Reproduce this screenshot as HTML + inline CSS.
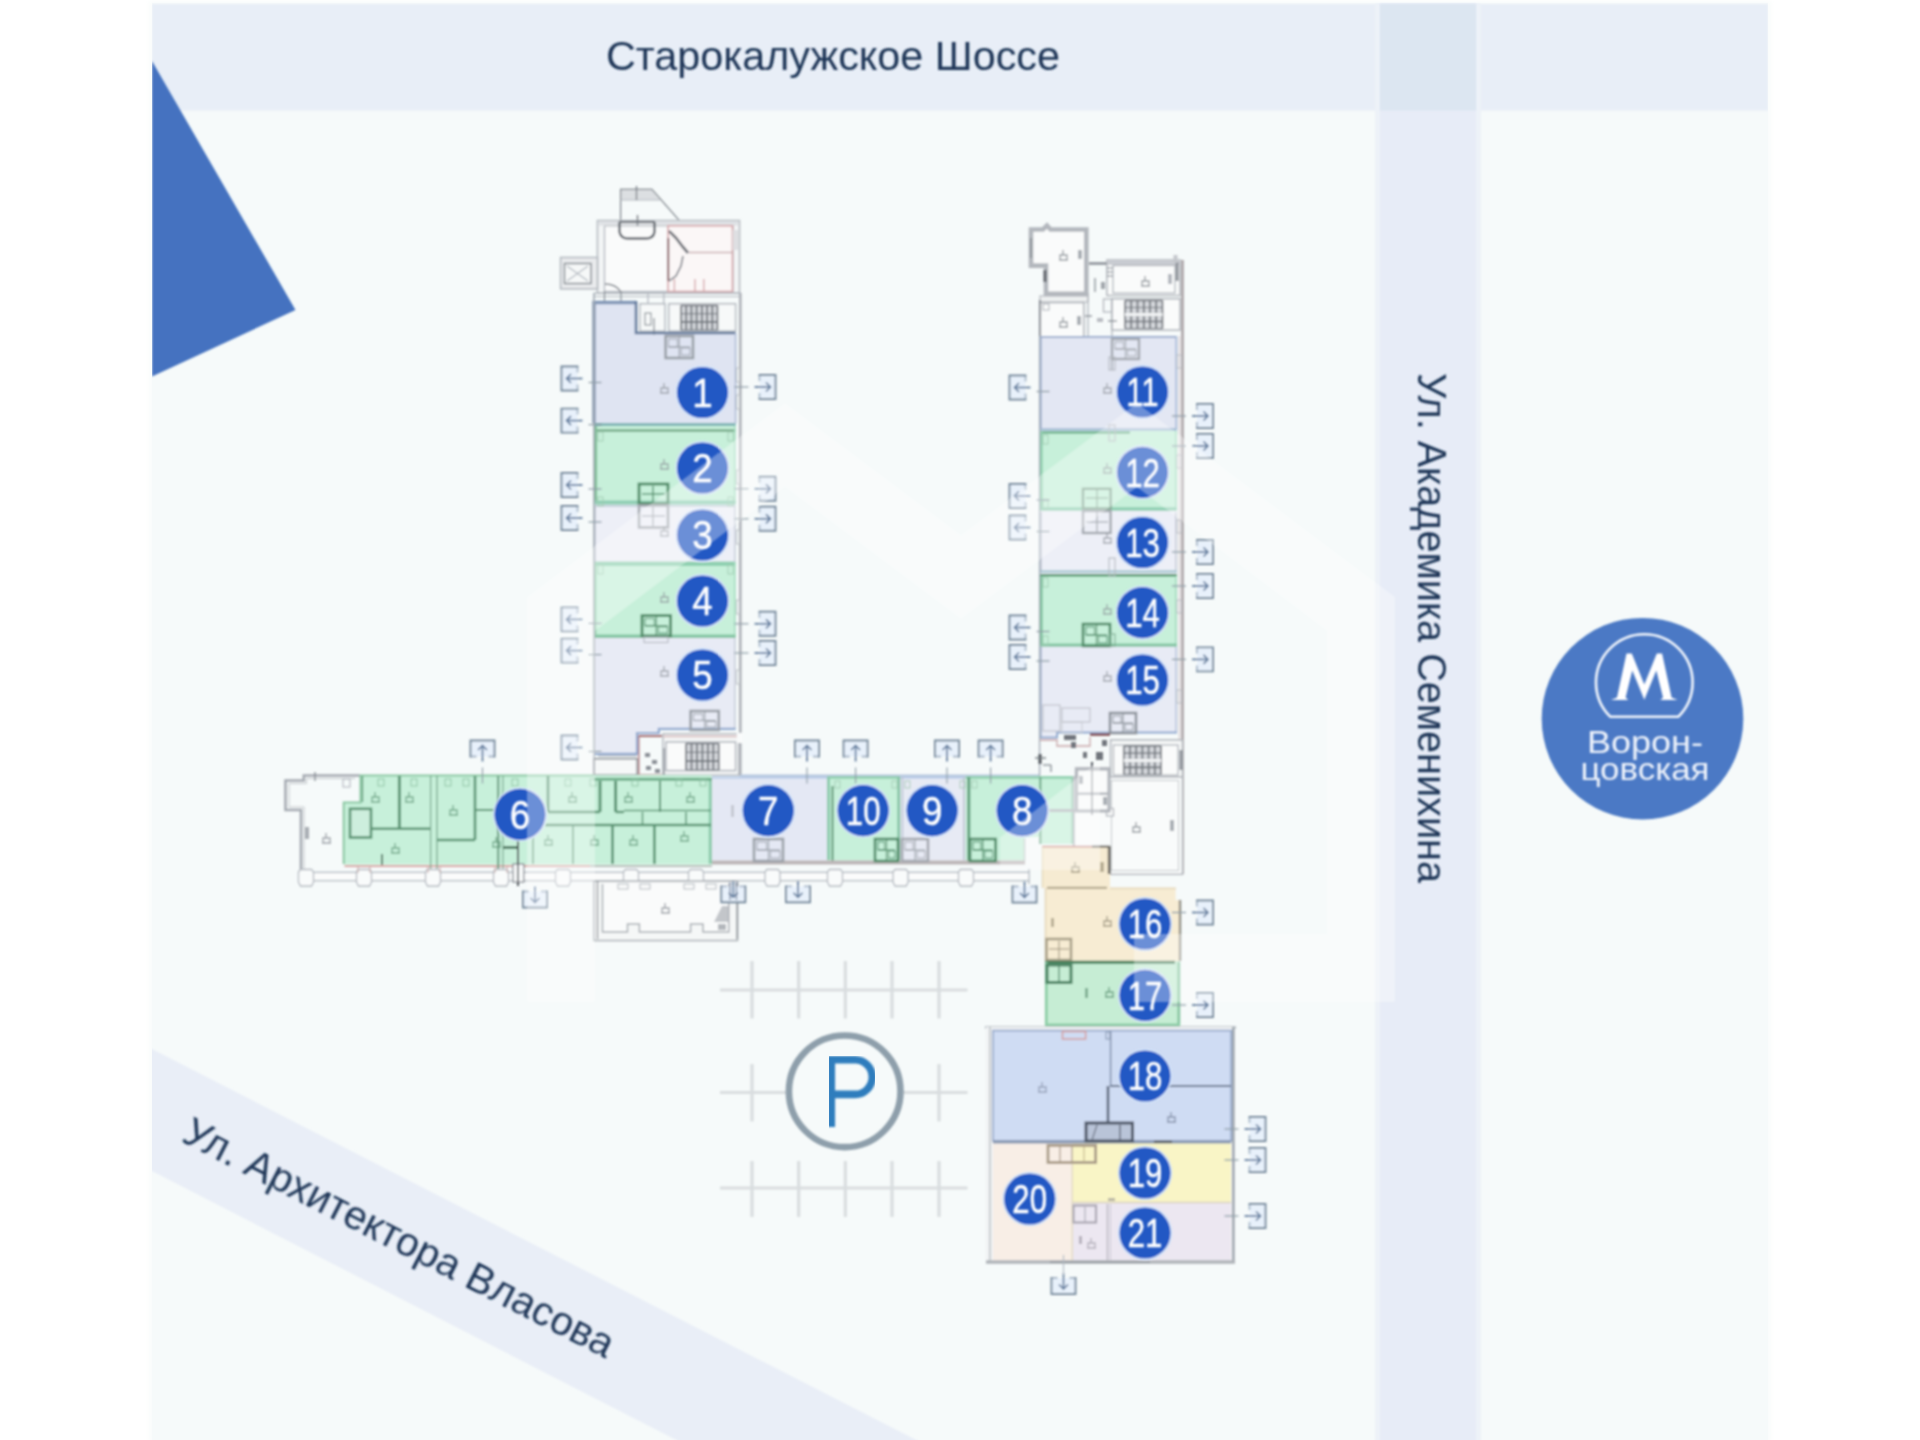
<!DOCTYPE html>
<html><head><meta charset="utf-8"><title>plan</title>
<style>
html,body{margin:0;padding:0;background:#fff;}
body{width:1920px;height:1440px;overflow:hidden;font-family:"Liberation Sans",sans-serif;}
svg{display:block;}
text{font-family:"Liberation Sans",sans-serif;}
</style></head><body>
<svg width="1920" height="1440" viewBox="0 0 1920 1440">
<defs>
<filter id="bl" x="-5%" y="-5%" width="110%" height="110%"><feGaussianBlur stdDeviation="0.8"/></filter>
<filter id="bl2" x="-5%" y="-5%" width="110%" height="110%"><feGaussianBlur stdDeviation="1.2"/></filter>
<filter id="bl3" x="-5%" y="-5%" width="110%" height="110%"><feGaussianBlur stdDeviation="2.5"/></filter>
<clipPath id="panel"><rect x="152" y="0" width="1616" height="1440"/></clipPath>
</defs>
<rect x="0.0" y="0.0" width="1920.0" height="1440.0" fill="#ffffff" />
<rect x="149.0" y="1.0" width="1622.0" height="1442.0" fill="#f9fcfb" filter="url(#bl3)"/>
<g clip-path="url(#panel)">
<rect x="152.0" y="3.0" width="1616.0" height="1437.0" fill="#f6fafa" />
<rect x="152.0" y="4.0" width="1616.0" height="106.5" fill="#e8eef7" filter="url(#bl2)"/>
<rect x="1375.0" y="4.0" width="106.0" height="1440.0" fill="#edf2f8" filter="url(#bl2)"/>
<rect x="1380.0" y="4.0" width="96.0" height="1440.0" fill="#e7ecf7" filter="url(#bl2)"/>
<rect x="1380.0" y="4.0" width="96.0" height="106.5" fill="#dce6f1" filter="url(#bl2)"/>
<path d="M140.0,1043.0 L930.0,1447.0 L690.0,1447.0 L140.0,1165.0 Z" fill="#e9eef7" filter="url(#bl2)"/>
<path d="M152.0,61.0 L295.5,310.0 L152.0,376.5 Z" fill="#4472c0" filter="url(#bl)"/>
</g>
<g filter="url(#bl)">
<line x1="720.0" y1="990.0" x2="967.5" y2="990.0" stroke="#d9dddf" stroke-width="3.2" />
<line x1="752.0" y1="961.0" x2="752.0" y2="1018.5" stroke="#d9dddf" stroke-width="3.2" />
<line x1="798.7" y1="961.0" x2="798.7" y2="1018.5" stroke="#d9dddf" stroke-width="3.2" />
<line x1="845.3" y1="961.0" x2="845.3" y2="1018.5" stroke="#d9dddf" stroke-width="3.2" />
<line x1="892.0" y1="961.0" x2="892.0" y2="1018.5" stroke="#d9dddf" stroke-width="3.2" />
<line x1="939.0" y1="961.0" x2="939.0" y2="1018.5" stroke="#d9dddf" stroke-width="3.2" />
<line x1="720.0" y1="1092.5" x2="967.5" y2="1092.5" stroke="#d9dddf" stroke-width="3.2" />
<line x1="752.0" y1="1064.0" x2="752.0" y2="1121.5" stroke="#d9dddf" stroke-width="3.2" />
<line x1="798.7" y1="1064.0" x2="798.7" y2="1121.5" stroke="#d9dddf" stroke-width="3.2" />
<line x1="845.3" y1="1064.0" x2="845.3" y2="1121.5" stroke="#d9dddf" stroke-width="3.2" />
<line x1="892.0" y1="1064.0" x2="892.0" y2="1121.5" stroke="#d9dddf" stroke-width="3.2" />
<line x1="939.0" y1="1064.0" x2="939.0" y2="1121.5" stroke="#d9dddf" stroke-width="3.2" />
<line x1="720.0" y1="1188.0" x2="967.5" y2="1188.0" stroke="#d9dddf" stroke-width="3.2" />
<line x1="752.0" y1="1161.0" x2="752.0" y2="1217.0" stroke="#d9dddf" stroke-width="3.2" />
<line x1="798.7" y1="1161.0" x2="798.7" y2="1217.0" stroke="#d9dddf" stroke-width="3.2" />
<line x1="845.3" y1="1161.0" x2="845.3" y2="1217.0" stroke="#d9dddf" stroke-width="3.2" />
<line x1="892.0" y1="1161.0" x2="892.0" y2="1217.0" stroke="#d9dddf" stroke-width="3.2" />
<line x1="939.0" y1="1161.0" x2="939.0" y2="1217.0" stroke="#d9dddf" stroke-width="3.2" />
</g>
<circle cx="844.7" cy="1091.3" r="58" fill="#f6fafa"/>
<circle cx="844.7" cy="1091.3" r="55.8" fill="none" stroke="#8e9fab" stroke-width="6.6" filter="url(#bl)"/>
<path d="M831.3,1127 V1059.8 H855 A17.3,17.3 0 0 1 855,1094.4 H831.3" fill="none" stroke="#2e7dbd" stroke-width="7.6" filter="url(#bl)"/>
<circle cx="1642.5" cy="718.7" r="100.8" fill="#4b79c5" filter="url(#bl)"/>
<path d="M1610.2,716.7 A48.3,48.3 0 1 1 1678.4,716.7 Z" fill="none" stroke="#f2f6fc" stroke-width="2.6" filter="url(#bl)" stroke-linejoin="round"/>
<path d="M1611,700 L1617,697.5 L1626.5,653.5 L1631.8,653.5 L1644.3,684.5 L1656.8,653.5 L1662.1,653.5 L1671.6,697.5 L1677.6,700 L1660.3,700 L1663,697.5 L1656.3,670.5 L1644.3,699.8 L1632.3,670.5 L1625.6,697.5 L1628.3,700 Z" fill="#ffffff" filter="url(#bl)"/>
<g fill="#eef3fb" font-size="30.5px" text-anchor="middle" filter="url(#bl)">
<text x="1645" y="752.5" textLength="116" lengthAdjust="spacingAndGlyphs">Ворон-</text>
<text x="1645" y="780" textLength="129" lengthAdjust="spacingAndGlyphs">цовская</text>
</g>
<g fill="#1f3657" font-size="40px" filter="url(#bl)">
<text x="606" y="69.5" textLength="454" lengthAdjust="spacingAndGlyphs">Старокалужское Шоссе</text>
<text transform="translate(1418,373) rotate(90)" textLength="510" lengthAdjust="spacingAndGlyphs">Ул. Академика Семенихина</text>
<text transform="translate(180,1141) rotate(27.1)" textLength="478" lengthAdjust="spacingAndGlyphs">Ул. Архитектора Власова</text>
</g>
<g filter="url(#bl)" stroke-linecap="butt">
<path d="M620.6,189.4 L651.9,189.4 L660.0,200.0 L620.6,200.0 Z" fill="#dcdfe2" />
<path d="M620.6,222.0 L620.6,189.4 L651.9,189.4 L679.4,220.6" fill="none" stroke="#7d838a" stroke-width="1.2" />
<line x1="620.6" y1="200.0" x2="660.0" y2="200.0" stroke="#b4b9c0" stroke-width="1.2" />
<line x1="636.5" y1="186.0" x2="636.5" y2="200.0" stroke="#7d838a" stroke-width="1.4" />
<rect x="597.5" y="220.6" width="142.0" height="72.4" fill="#f3f5f6" stroke="#b4b9c0" stroke-width="1.6" />
<rect x="604.5" y="225.8" width="128.5" height="65.7" fill="#fafbfb" stroke="#b4b9c0" stroke-width="1.4" />
<rect x="598.3" y="221.4" width="140.4" height="4.2" fill="#dfe2e5" />
<rect x="560.6" y="257.5" width="36.9" height="31.3" fill="#e9ebed" stroke="#b4b9c0" stroke-width="1.6" />
<rect x="564.5" y="263.5" width="26.5" height="20.0" fill="#f6f8f8" stroke="#7d838a" stroke-width="1.4" />
<line x1="567.0" y1="266.0" x2="588.0" y2="281.0" stroke="#b4b9c0" stroke-width="1.2" />
<line x1="567.0" y1="281.0" x2="588.0" y2="266.0" stroke="#b4b9c0" stroke-width="1.2" />
<path d="M619.5,222 V232 Q621,238.5 628,238.5 H646 Q653.5,238.5 654.5,232 V222" fill="none" stroke="#5f656d" stroke-width="2.4" />
<line x1="619.0" y1="222.0" x2="655.0" y2="222.0" stroke="#6f757c" stroke-width="1.8" />
<line x1="637.5" y1="215.0" x2="637.5" y2="226.0" stroke="#6f757c" stroke-width="1.3" />
<rect x="668.0" y="225.8" width="64.5" height="65.7" fill="#fbf7f7" stroke="#d9a9ad" stroke-width="1.7" />
<line x1="689.0" y1="252.5" x2="732.5" y2="252.5" stroke="#c9b1b4" stroke-width="1.6" />
<line x1="668.3" y1="238.0" x2="668.3" y2="281.0" stroke="#7c4f55" stroke-width="1.8" />
<path d="M669.0,231.0 L676.0,238.0 L683.0,247.0 L688.0,253.0" fill="none" stroke="#74777e" stroke-width="2.8" />
<path d="M669.0,281.0 L676.0,276.0 L681.0,266.0 L683.0,256.0" fill="none" stroke="#8b8e95" stroke-width="1.8" />
<line x1="674.4" y1="279.0" x2="674.4" y2="291.5" stroke="#d3a3a7" stroke-width="1.3" />
<line x1="695.0" y1="279.0" x2="695.0" y2="291.5" stroke="#d3a3a7" stroke-width="1.3" />
<line x1="703.8" y1="279.0" x2="703.8" y2="291.5" stroke="#d3a3a7" stroke-width="1.3" />
<rect x="732.5" y="230.0" width="5.5" height="20.0" fill="#dedfe2" />
<path d="M605,284 Q616,284 621,292" fill="none" stroke="#7d838a" stroke-width="1.3" />
<line x1="594.0" y1="293.3" x2="741.0" y2="293.3" stroke="#b4b9c0" stroke-width="1.4" />
<line x1="594.0" y1="296.5" x2="741.0" y2="296.5" stroke="#b4b9c0" stroke-width="1.0" />
<line x1="648.0" y1="293.0" x2="648.0" y2="304.0" stroke="#b4b9c0" stroke-width="1.3" />
<line x1="663.8" y1="293.0" x2="663.8" y2="304.0" stroke="#b4b9c0" stroke-width="1.3" />
<line x1="604.5" y1="291.0" x2="604.5" y2="304.0" stroke="#7d838a" stroke-width="1.1" />
<line x1="621.0" y1="291.0" x2="621.0" y2="304.0" stroke="#7d838a" stroke-width="1.1" />
<path d="M594.0,302.5 L636.0,302.5 L636.0,333.0 L735.6,333.0 L735.6,423.5 L594.0,423.5 Z" fill="#dfe4f2" />
<rect x="668.8" y="303.8" width="66.8" height="27.2" fill="#f7f9f9" stroke="#b4b9c0" stroke-width="1.5" />
<rect x="681.0" y="305.5" width="36.5" height="24.5" fill="#d4d7db" />
<line x1="681.0" y1="305.5" x2="681.0" y2="330.0" stroke="#6f747b" stroke-width="1.7" />
<line x1="686.2" y1="305.5" x2="686.2" y2="330.0" stroke="#6f747b" stroke-width="1.7" />
<line x1="691.4" y1="305.5" x2="691.4" y2="330.0" stroke="#6f747b" stroke-width="1.7" />
<line x1="696.6" y1="305.5" x2="696.6" y2="330.0" stroke="#6f747b" stroke-width="1.7" />
<line x1="701.9" y1="305.5" x2="701.9" y2="330.0" stroke="#6f747b" stroke-width="1.7" />
<line x1="707.1" y1="305.5" x2="707.1" y2="330.0" stroke="#6f747b" stroke-width="1.7" />
<line x1="712.3" y1="305.5" x2="712.3" y2="330.0" stroke="#6f747b" stroke-width="1.7" />
<line x1="717.5" y1="305.5" x2="717.5" y2="330.0" stroke="#6f747b" stroke-width="1.7" />
<line x1="681.0" y1="305.5" x2="717.5" y2="305.5" stroke="#6f747b" stroke-width="1.7" />
<line x1="681.0" y1="313.7" x2="717.5" y2="313.7" stroke="#6f747b" stroke-width="1.1" />
<line x1="681.0" y1="321.8" x2="717.5" y2="321.8" stroke="#6f747b" stroke-width="1.7" />
<line x1="681.0" y1="330.0" x2="717.5" y2="330.0" stroke="#6f747b" stroke-width="1.1" />
<rect x="640.0" y="303.8" width="25.0" height="27.2" fill="#f7f9f9" stroke="#b4b9c0" stroke-width="1.5" />
<line x1="654.0" y1="318.0" x2="654.0" y2="335.0" stroke="#7d838a" stroke-width="1.2" />
<rect x="645.0" y="313.0" width="6.0" height="12.0" fill="none" stroke="#7d838a" stroke-width="1" />
<path d="M594.0,423.5 L594.0,302.5 L636.0,302.5" fill="none" stroke="#8196b6" stroke-width="3.6" />
<path d="M636.0,301.0 L636.0,333.0 L735.6,333.0" fill="none" stroke="#62799b" stroke-width="2.6" />
<line x1="735.6" y1="333.0" x2="735.6" y2="423.5" stroke="#a9b7d2" stroke-width="1.6" />
<rect x="665.6" y="336.0" width="27.4" height="22.0" fill="none" stroke="#9aa0a8" stroke-width="2.6" />
<line x1="679.3" y1="336.0" x2="679.3" y2="358.0" stroke="#9aa0a8" stroke-width="1.2" />
<line x1="668.6" y1="347.0" x2="690.0" y2="347.0" stroke="#9aa0a8" stroke-width="1.2" />
<rect x="668.6" y="339.0" width="8.7" height="8.0" fill="none" stroke="#9aa0a8" stroke-width="0.9" />
<rect x="681.3" y="348.0" width="8.7" height="7.0" fill="none" stroke="#9aa0a8" stroke-width="0.9" />
<rect x="594.0" y="424.0" width="141.6" height="80.5" fill="#c7f0da" />
<rect x="594.0" y="504.5" width="141.6" height="57.5" fill="#edeff7" />
<rect x="594.0" y="562.0" width="141.6" height="75.5" fill="#c7f0da" />
<path d="M594.0,637.5 L735.6,637.5 L735.6,728.8 L658.8,728.8 L658.8,733.0 L637.0,733.0 L637.0,753.8 L594.0,753.8 Z" fill="#e8ebf5" />
<line x1="594.0" y1="424.5" x2="735.6" y2="424.5" stroke="#7fb5b6" stroke-width="3.2" />
<line x1="594.0" y1="430.5" x2="735.6" y2="430.5" stroke="#74ab88" stroke-width="2.6" />
<line x1="595.5" y1="426.0" x2="595.5" y2="504.0" stroke="#7fbd97" stroke-width="3.2" />
<line x1="734.8" y1="426.0" x2="734.8" y2="504.0" stroke="#a5dcbf" stroke-width="1.6" />
<line x1="594.0" y1="502.5" x2="735.6" y2="502.5" stroke="#8fcdb4" stroke-width="4.2" />
<line x1="594.0" y1="506.0" x2="735.6" y2="506.0" stroke="#b9c7d2" stroke-width="1.4" />
<line x1="594.0" y1="563.8" x2="735.6" y2="563.8" stroke="#8fd0b0" stroke-width="4.4" />
<line x1="595.2" y1="562.0" x2="595.2" y2="637.0" stroke="#93cfac" stroke-width="2.4" />
<line x1="734.8" y1="562.0" x2="734.8" y2="637.0" stroke="#a5dcbf" stroke-width="1.6" />
<line x1="594.0" y1="636.2" x2="735.6" y2="636.2" stroke="#86c6a4" stroke-width="3.6" />
<line x1="595.0" y1="506.0" x2="595.0" y2="562.0" stroke="#b9bfcc" stroke-width="1.6" />
<line x1="734.8" y1="506.0" x2="734.8" y2="562.0" stroke="#c4c9d6" stroke-width="1.4" />
<line x1="734.8" y1="638.0" x2="734.8" y2="728.8" stroke="#c4c9d6" stroke-width="1.4" />
<path d="M735.6,728.8 L658.8,728.8 L658.8,733.0 L637.0,733.0 L637.0,753.8 L594.0,753.8" fill="none" stroke="#8fa8cf" stroke-width="2.2" />
<line x1="594.0" y1="293.0" x2="594.0" y2="776.0" stroke="#a2aab3" stroke-width="1.6" />
<line x1="740.3" y1="293.0" x2="740.3" y2="776.0" stroke="#adb1b7" stroke-width="2.6" />
<rect x="736.5" y="368.0" width="3.0" height="14.0" fill="none" stroke="#b8bcc2" stroke-width="0.9" />
<rect x="736.5" y="395.0" width="3.0" height="14.0" fill="none" stroke="#b8bcc2" stroke-width="0.9" />
<rect x="736.5" y="470.0" width="3.0" height="14.0" fill="none" stroke="#b8bcc2" stroke-width="0.9" />
<rect x="736.5" y="530.0" width="3.0" height="14.0" fill="none" stroke="#b8bcc2" stroke-width="0.9" />
<rect x="736.5" y="600.0" width="3.0" height="14.0" fill="none" stroke="#b8bcc2" stroke-width="0.9" />
<rect x="736.5" y="670.0" width="3.0" height="14.0" fill="none" stroke="#b8bcc2" stroke-width="0.9" />
<rect x="639.0" y="484.0" width="29.0" height="19.5" fill="none" stroke="#4f8b68" stroke-width="2.8" />
<line x1="653.0" y1="486.0" x2="653.0" y2="502.0" stroke="#4f8b68" stroke-width="1.3" />
<line x1="642.0" y1="494.0" x2="665.0" y2="494.0" stroke="#4f8b68" stroke-width="1.3" />
<rect x="639.0" y="505.5" width="29.0" height="22.0" fill="none" stroke="#a4a9b0" stroke-width="2.6" />
<line x1="653.0" y1="507.0" x2="653.0" y2="526.0" stroke="#a4a9b0" stroke-width="1.3" />
<line x1="642.0" y1="516.0" x2="665.0" y2="516.0" stroke="#a4a9b0" stroke-width="1.3" />
<rect x="642.0" y="615.6" width="28.6" height="20.4" fill="none" stroke="#4f8b68" stroke-width="2.8" />
<line x1="656.3" y1="615.6" x2="656.3" y2="636.0" stroke="#4f8b68" stroke-width="1.2" />
<line x1="645.0" y1="625.8" x2="667.6" y2="625.8" stroke="#4f8b68" stroke-width="1.2" />
<rect x="645.0" y="618.6" width="9.3" height="7.2" fill="none" stroke="#4f8b68" stroke-width="0.9" />
<rect x="658.3" y="626.8" width="9.3" height="6.2" fill="none" stroke="#4f8b68" stroke-width="0.9" />
<rect x="644.0" y="637.0" width="24.0" height="5.5" fill="none" stroke="#b4b9c0" stroke-width="1.1" />
<rect x="690.6" y="711.0" width="28.2" height="19.0" fill="none" stroke="#9ba1a9" stroke-width="2.6" />
<line x1="704.7" y1="711.0" x2="704.7" y2="730.0" stroke="#9ba1a9" stroke-width="1.2" />
<line x1="693.6" y1="720.5" x2="715.8" y2="720.5" stroke="#9ba1a9" stroke-width="1.2" />
<rect x="693.6" y="714.0" width="9.1" height="6.5" fill="none" stroke="#9ba1a9" stroke-width="0.9" />
<rect x="706.7" y="721.5" width="9.1" height="5.5" fill="none" stroke="#9ba1a9" stroke-width="0.9" />
<rect x="598.0" y="432.0" width="5.0" height="9.0" fill="none" stroke="#9fc9b0" stroke-width="0.9" />
<rect x="728.0" y="432.0" width="5.0" height="9.0" fill="none" stroke="#9fc9b0" stroke-width="0.9" />
<rect x="598.0" y="497.0" width="5.0" height="9.0" fill="none" stroke="#9fc9b0" stroke-width="0.9" />
<rect x="728.0" y="497.0" width="5.0" height="9.0" fill="none" stroke="#9fc9b0" stroke-width="0.9" />
<rect x="598.0" y="565.0" width="5.0" height="9.0" fill="none" stroke="#9fc9b0" stroke-width="0.9" />
<rect x="728.0" y="565.0" width="5.0" height="9.0" fill="none" stroke="#9fc9b0" stroke-width="0.9" />
<g opacity="0.75" stroke="#8a8f96" stroke-width="1.3" fill="none"><path d="M660.0,393.0 H669.0 M661.0,393.0 V388.0 H668.0 V393.0 M664.0,388.0 V383.0"/></g>
<g opacity="0.75" stroke="#8a8f96" stroke-width="1.3" fill="none"><path d="M660.0,469.0 H669.0 M661.0,469.0 V464.0 H668.0 V469.0 M664.0,464.0 V459.0"/></g>
<g opacity="0.75" stroke="#8a8f96" stroke-width="1.3" fill="none"><path d="M660.0,536.0 H669.0 M661.0,536.0 V531.0 H668.0 V536.0 M664.0,531.0 V526.0"/></g>
<g opacity="0.75" stroke="#8a8f96" stroke-width="1.3" fill="none"><path d="M660.0,602.0 H669.0 M661.0,602.0 V597.0 H668.0 V602.0 M664.0,597.0 V592.0"/></g>
<g opacity="0.75" stroke="#8a8f96" stroke-width="1.3" fill="none"><path d="M660.0,676.0 H669.0 M661.0,676.0 V671.0 H668.0 V676.0 M664.0,671.0 V666.0"/></g>
<rect x="663.0" y="733.8" width="75.8" height="41.2" fill="#f4f6f6" stroke="#b4b9c0" stroke-width="1.5" />
<line x1="663.0" y1="736.5" x2="738.8" y2="736.5" stroke="#d7b7b9" stroke-width="1.6" />
<rect x="666.0" y="742.0" width="69.6" height="28.6" fill="#fafbfb" stroke="#b4b9c0" stroke-width="1.6" />
<rect x="686.0" y="743.5" width="32.8" height="26.5" fill="#d4d7db" />
<line x1="686.0" y1="743.5" x2="686.0" y2="770.0" stroke="#6f747b" stroke-width="1.7" />
<line x1="691.5" y1="743.5" x2="691.5" y2="770.0" stroke="#6f747b" stroke-width="1.7" />
<line x1="696.9" y1="743.5" x2="696.9" y2="770.0" stroke="#6f747b" stroke-width="1.7" />
<line x1="702.4" y1="743.5" x2="702.4" y2="770.0" stroke="#6f747b" stroke-width="1.7" />
<line x1="707.9" y1="743.5" x2="707.9" y2="770.0" stroke="#6f747b" stroke-width="1.7" />
<line x1="713.3" y1="743.5" x2="713.3" y2="770.0" stroke="#6f747b" stroke-width="1.7" />
<line x1="718.8" y1="743.5" x2="718.8" y2="770.0" stroke="#6f747b" stroke-width="1.7" />
<line x1="686.0" y1="743.5" x2="718.8" y2="743.5" stroke="#6f747b" stroke-width="1.7" />
<line x1="686.0" y1="752.3" x2="718.8" y2="752.3" stroke="#6f747b" stroke-width="1.1" />
<line x1="686.0" y1="761.2" x2="718.8" y2="761.2" stroke="#6f747b" stroke-width="1.7" />
<line x1="686.0" y1="770.0" x2="718.8" y2="770.0" stroke="#6f747b" stroke-width="1.1" />
<path d="M662.0,775.0 L638.8,775.0 L638.8,736.0 L662.0,736.0" fill="none" stroke="#b98a8e" stroke-width="1.6" />
<line x1="638.8" y1="736.0" x2="662.0" y2="736.0" stroke="#9c5f64" stroke-width="1.6" />
<rect x="594.0" y="758.8" width="43.0" height="16.2" fill="#f6f8f8" stroke="#7d838a" stroke-width="1.4" />
<line x1="598.0" y1="756.0" x2="637.0" y2="756.0" stroke="#9aa0a8" stroke-width="1.2" />
<rect x="645.0" y="753.0" width="5.0" height="4.0" fill="#8a8f96" />
<rect x="652.0" y="760.0" width="5.0" height="4.0" fill="#8a8f96" />
<rect x="646.0" y="766.0" width="5.0" height="4.0" fill="#8a8f96" />
<rect x="655.0" y="769.0" width="5.0" height="4.0" fill="#8a8f96" />
<line x1="664.0" y1="748.0" x2="664.0" y2="775.0" stroke="#7d838a" stroke-width="1.2" />
<rect x="736.8" y="733.0" width="6.0" height="10.0" fill="#f9fbfb" />
<path d="M360.0,775.5 L303.8,775.5 L303.8,780.5 L285.5,780.5 L285.5,810.0 L301.0,810.0 L301.0,873.0" fill="none" stroke="#a6abb2" stroke-width="2.6" />
<path d="M355.0,778.5 L306.5,778.5 L306.5,783.5 L289.0,783.5 L289.0,807.0 L304.0,807.0 L304.0,870.0" fill="none" stroke="#c4c8cc" stroke-width="1.0" />
<line x1="315.0" y1="772.0" x2="315.0" y2="781.0" stroke="#7d838a" stroke-width="1.2" />
<rect x="343.0" y="779.0" width="7.0" height="8.0" fill="none" stroke="#b4b9c0" stroke-width="1.1" />
<g opacity="0.8" stroke="#8a8f96" stroke-width="1.3" fill="none"><path d="M322.0,843.0 H331.0 M323.0,843.0 V838.0 H330.0 V843.0 M326.0,838.0 V833.0"/></g>
<rect x="305.0" y="827.0" width="4.0" height="12.0" fill="#a8adb3" />
<path d="M360.6,775.0 L711.5,775.0 L711.5,864.5 L343.8,864.5 L343.8,802.5 L360.6,802.5 Z" fill="#c7f0da" />
<path d="M343.8,864.0 L343.8,802.5 L360.6,802.5 L360.6,775.5 L594.0,775.5" fill="none" stroke="#8cc8a3" stroke-width="2.2" />
<line x1="344.5" y1="866.0" x2="590.0" y2="866.0" stroke="#d8aaa8" stroke-width="2.0" />
<line x1="590.0" y1="866.0" x2="712.0" y2="866.0" stroke="#b7c0bb" stroke-width="2.0" />
<line x1="710.3" y1="779.0" x2="710.3" y2="864.0" stroke="#8ccbac" stroke-width="3.2" />
<line x1="594.0" y1="779.2" x2="712.0" y2="779.2" stroke="#6fae8a" stroke-width="3.0" />
<line x1="362.5" y1="776.0" x2="362.5" y2="802.0" stroke="#5a9473" stroke-width="1.3" />
<line x1="399.4" y1="776.0" x2="399.4" y2="829.0" stroke="#5a9473" stroke-width="3.0" />
<line x1="371.0" y1="828.8" x2="430.0" y2="828.8" stroke="#5a9473" stroke-width="2.6" />
<rect x="350.0" y="808.8" width="21.0" height="28.7" fill="#cdeedd" stroke="#5a9473" stroke-width="2.6" />
<line x1="430.6" y1="776.0" x2="430.6" y2="873.0" stroke="#6b9c80" stroke-width="1.1" />
<line x1="437.0" y1="776.0" x2="437.0" y2="873.0" stroke="#6b9c80" stroke-width="1.1" />
<line x1="475.0" y1="776.0" x2="475.0" y2="840.0" stroke="#5a9473" stroke-width="2.6" />
<line x1="437.0" y1="840.0" x2="475.0" y2="840.0" stroke="#5a9473" stroke-width="2.6" />
<line x1="382.0" y1="854.0" x2="382.0" y2="865.0" stroke="#3d5f4c" stroke-width="1.6" />
<line x1="498.8" y1="776.0" x2="498.8" y2="873.0" stroke="#6b9c80" stroke-width="1.1" />
<line x1="475.0" y1="810.0" x2="499.0" y2="810.0" stroke="#5a9473" stroke-width="2.0" />
<line x1="548.0" y1="776.0" x2="548.0" y2="812.0" stroke="#5a9473" stroke-width="2.6" />
<line x1="548.0" y1="812.0" x2="600.0" y2="812.0" stroke="#5a9473" stroke-width="2.6" />
<line x1="600.0" y1="781.0" x2="600.0" y2="812.0" stroke="#5a9473" stroke-width="3.0" />
<line x1="615.6" y1="781.0" x2="615.6" y2="812.0" stroke="#5a9473" stroke-width="3.0" />
<line x1="615.6" y1="812.0" x2="624.0" y2="812.0" stroke="#5a9473" stroke-width="2.4" />
<line x1="660.0" y1="781.0" x2="660.0" y2="812.0" stroke="#5a9473" stroke-width="2.0" />
<line x1="624.0" y1="810.6" x2="711.0" y2="810.6" stroke="#5a9473" stroke-width="1.5" />
<line x1="545.0" y1="825.0" x2="711.0" y2="825.0" stroke="#5a9473" stroke-width="2.6" />
<line x1="573.0" y1="825.0" x2="573.0" y2="864.0" stroke="#5a9473" stroke-width="1.5" />
<line x1="612.5" y1="825.0" x2="612.5" y2="864.0" stroke="#5a9473" stroke-width="2.6" />
<line x1="654.4" y1="825.0" x2="654.4" y2="864.0" stroke="#5a9473" stroke-width="2.6" />
<line x1="533.0" y1="837.0" x2="533.0" y2="864.0" stroke="#5a9473" stroke-width="1.5" />
<line x1="497.5" y1="776.0" x2="497.5" y2="873.0" stroke="#6b9c80" stroke-width="1.0" />
<line x1="503.0" y1="776.0" x2="503.0" y2="873.0" stroke="#6b9c80" stroke-width="1.0" />
<line x1="503.0" y1="847.5" x2="518.0" y2="847.5" stroke="#3f6b52" stroke-width="2.6" />
<line x1="518.0" y1="838.0" x2="518.0" y2="886.0" stroke="#4a4f55" stroke-width="1.5" />
<line x1="642.5" y1="812.0" x2="642.5" y2="825.0" stroke="#5a9473" stroke-width="1.5" />
<line x1="686.0" y1="812.0" x2="686.0" y2="825.0" stroke="#5a9473" stroke-width="1.5" />
<rect x="378.0" y="779.0" width="6.0" height="7.0" fill="none" stroke="#8fc0a3" stroke-width="0.9" />
<rect x="411.0" y="779.0" width="6.0" height="7.0" fill="none" stroke="#8fc0a3" stroke-width="0.9" />
<rect x="445.0" y="779.0" width="6.0" height="7.0" fill="none" stroke="#8fc0a3" stroke-width="0.9" />
<rect x="463.0" y="779.0" width="6.0" height="7.0" fill="none" stroke="#8fc0a3" stroke-width="0.9" />
<rect x="512.0" y="779.0" width="6.0" height="7.0" fill="none" stroke="#8fc0a3" stroke-width="0.9" />
<rect x="565.0" y="779.0" width="6.0" height="7.0" fill="none" stroke="#8fc0a3" stroke-width="0.9" />
<rect x="590.0" y="779.0" width="6.0" height="7.0" fill="none" stroke="#8fc0a3" stroke-width="0.9" />
<rect x="632.0" y="779.0" width="6.0" height="7.0" fill="none" stroke="#8fc0a3" stroke-width="0.9" />
<rect x="676.0" y="779.0" width="6.0" height="7.0" fill="none" stroke="#8fc0a3" stroke-width="0.9" />
<rect x="700.0" y="779.0" width="6.0" height="7.0" fill="none" stroke="#8fc0a3" stroke-width="0.9" />
<g opacity="0.8" stroke="#5f9778" stroke-width="1.3" fill="none"><path d="M371.0,802.0 H380.0 M372.0,802.0 V797.0 H379.0 V802.0 M375.0,797.0 V792.0"/></g>
<g opacity="0.8" stroke="#5f9778" stroke-width="1.3" fill="none"><path d="M405.0,802.0 H414.0 M406.0,802.0 V797.0 H413.0 V802.0 M409.0,797.0 V792.0"/></g>
<g opacity="0.8" stroke="#5f9778" stroke-width="1.3" fill="none"><path d="M449.0,815.0 H458.0 M450.0,815.0 V810.0 H457.0 V815.0 M453.0,810.0 V805.0"/></g>
<g opacity="0.8" stroke="#5f9778" stroke-width="1.3" fill="none"><path d="M391.0,853.0 H400.0 M392.0,853.0 V848.0 H399.0 V853.0 M395.0,848.0 V843.0"/></g>
<g opacity="0.8" stroke="#5f9778" stroke-width="1.3" fill="none"><path d="M492.0,847.0 H501.0 M493.0,847.0 V842.0 H500.0 V847.0 M496.0,842.0 V837.0"/></g>
<g opacity="0.8" stroke="#5f9778" stroke-width="1.3" fill="none"><path d="M568.0,802.0 H577.0 M569.0,802.0 V797.0 H576.0 V802.0 M572.0,797.0 V792.0"/></g>
<g opacity="0.8" stroke="#5f9778" stroke-width="1.3" fill="none"><path d="M624.0,802.0 H633.0 M625.0,802.0 V797.0 H632.0 V802.0 M628.0,797.0 V792.0"/></g>
<g opacity="0.8" stroke="#5f9778" stroke-width="1.3" fill="none"><path d="M686.0,802.0 H695.0 M687.0,802.0 V797.0 H694.0 V802.0 M690.0,797.0 V792.0"/></g>
<g opacity="0.8" stroke="#5f9778" stroke-width="1.3" fill="none"><path d="M544.0,845.0 H553.0 M545.0,845.0 V840.0 H552.0 V845.0 M548.0,840.0 V835.0"/></g>
<g opacity="0.8" stroke="#5f9778" stroke-width="1.3" fill="none"><path d="M590.0,845.0 H599.0 M591.0,845.0 V840.0 H598.0 V845.0 M594.0,840.0 V835.0"/></g>
<g opacity="0.8" stroke="#5f9778" stroke-width="1.3" fill="none"><path d="M629.0,845.0 H638.0 M630.0,845.0 V840.0 H637.0 V845.0 M633.0,840.0 V835.0"/></g>
<g opacity="0.8" stroke="#5f9778" stroke-width="1.3" fill="none"><path d="M680.0,841.0 H689.0 M681.0,841.0 V836.0 H688.0 V841.0 M684.0,836.0 V831.0"/></g>
<line x1="740.3" y1="775.6" x2="1040.0" y2="775.6" stroke="#b6c6dd" stroke-width="2.2" />
<rect x="712.0" y="777.0" width="115.0" height="83.6" fill="#e4e8f4" />
<rect x="827.0" y="777.0" width="73.0" height="83.6" fill="#c7f0da" />
<rect x="900.0" y="777.0" width="65.6" height="83.6" fill="#e7eaf4" />
<path d="M965.6,776.0 L1073.0,776.0 L1073.0,844.0 L1040.6,844.0 L1040.6,837.0 L1025.0,837.0 L1025.0,860.6 L965.6,860.6 Z" fill="#c7f0da" />
<line x1="712.0" y1="777.5" x2="827.0" y2="777.5" stroke="#b2c8e6" stroke-width="1.8" />
<line x1="827.0" y1="777.5" x2="900.0" y2="777.5" stroke="#8fcfae" stroke-width="2.6" />
<line x1="900.0" y1="777.5" x2="965.6" y2="777.5" stroke="#b2c8e6" stroke-width="1.8" />
<line x1="965.6" y1="777.5" x2="1073.0" y2="777.5" stroke="#8fcfae" stroke-width="2.6" />
<line x1="828.5" y1="777.0" x2="828.5" y2="860.0" stroke="#8ccbac" stroke-width="3.0" />
<line x1="832.5" y1="786.0" x2="832.5" y2="861.0" stroke="#5a9473" stroke-width="2.0" />
<line x1="898.8" y1="777.0" x2="898.8" y2="860.0" stroke="#86c4a5" stroke-width="3.0" />
<line x1="902.5" y1="777.0" x2="902.5" y2="860.0" stroke="#b9c1cf" stroke-width="1.4" />
<line x1="964.0" y1="777.0" x2="964.0" y2="860.0" stroke="#b9c1cf" stroke-width="1.6" />
<line x1="968.8" y1="777.0" x2="968.8" y2="861.0" stroke="#5f9f7c" stroke-width="3.0" />
<line x1="1040.3" y1="777.0" x2="1040.3" y2="844.0" stroke="#6aa484" stroke-width="2.0" />
<line x1="1047.0" y1="810.6" x2="1073.0" y2="810.6" stroke="#9fc3ae" stroke-width="2.6" />
<line x1="1072.0" y1="777.0" x2="1072.0" y2="844.0" stroke="#9bd0b4" stroke-width="1.6" />
<line x1="1024.5" y1="838.0" x2="1024.5" y2="861.0" stroke="#bfc6c6" stroke-width="1.4" />
<line x1="712.0" y1="862.6" x2="1025.0" y2="862.6" stroke="#bcb6b7" stroke-width="4.0" />
<rect x="754.0" y="839.0" width="29.0" height="22.0" fill="none" stroke="#9ba1a9" stroke-width="2.6" />
<line x1="768.5" y1="839.0" x2="768.5" y2="861.0" stroke="#9ba1a9" stroke-width="1.2" />
<line x1="757.0" y1="850.0" x2="780.0" y2="850.0" stroke="#9ba1a9" stroke-width="1.2" />
<rect x="757.0" y="842.0" width="9.5" height="8.0" fill="none" stroke="#9ba1a9" stroke-width="0.9" />
<rect x="770.5" y="851.0" width="9.5" height="7.0" fill="none" stroke="#9ba1a9" stroke-width="0.9" />
<rect x="875.0" y="839.0" width="23.0" height="22.0" fill="none" stroke="#4f8b68" stroke-width="2.6" />
<line x1="886.5" y1="839.0" x2="886.5" y2="861.0" stroke="#4f8b68" stroke-width="1.2" />
<line x1="878.0" y1="850.0" x2="895.0" y2="850.0" stroke="#4f8b68" stroke-width="1.2" />
<rect x="878.0" y="842.0" width="6.5" height="8.0" fill="none" stroke="#4f8b68" stroke-width="0.9" />
<rect x="888.5" y="851.0" width="6.5" height="7.0" fill="none" stroke="#4f8b68" stroke-width="0.9" />
<rect x="902.0" y="839.0" width="26.0" height="22.0" fill="none" stroke="#a4a9b0" stroke-width="2.6" />
<line x1="915.0" y1="839.0" x2="915.0" y2="861.0" stroke="#a4a9b0" stroke-width="1.2" />
<line x1="905.0" y1="850.0" x2="925.0" y2="850.0" stroke="#a4a9b0" stroke-width="1.2" />
<rect x="905.0" y="842.0" width="8.0" height="8.0" fill="none" stroke="#a4a9b0" stroke-width="0.9" />
<rect x="917.0" y="851.0" width="8.0" height="7.0" fill="none" stroke="#a4a9b0" stroke-width="0.9" />
<rect x="970.0" y="839.0" width="25.6" height="22.0" fill="none" stroke="#4f8b68" stroke-width="2.6" />
<line x1="982.8" y1="839.0" x2="982.8" y2="861.0" stroke="#4f8b68" stroke-width="1.2" />
<line x1="973.0" y1="850.0" x2="992.6" y2="850.0" stroke="#4f8b68" stroke-width="1.2" />
<rect x="973.0" y="842.0" width="7.8" height="8.0" fill="none" stroke="#4f8b68" stroke-width="0.9" />
<rect x="984.8" y="851.0" width="7.8" height="7.0" fill="none" stroke="#4f8b68" stroke-width="0.9" />
<rect x="835.0" y="781.0" width="5.0" height="7.0" fill="none" stroke="#a5c9b4" stroke-width="0.9" />
<rect x="892.0" y="781.0" width="5.0" height="7.0" fill="none" stroke="#a5c9b4" stroke-width="0.9" />
<rect x="905.0" y="781.0" width="5.0" height="7.0" fill="none" stroke="#a5c9b4" stroke-width="0.9" />
<rect x="960.0" y="781.0" width="5.0" height="7.0" fill="none" stroke="#a5c9b4" stroke-width="0.9" />
<rect x="972.0" y="781.0" width="5.0" height="7.0" fill="none" stroke="#a5c9b4" stroke-width="0.9" />
<rect x="731.0" y="805.0" width="3.0" height="12.0" fill="#c5c8d2" />
<line x1="301.0" y1="872.5" x2="1029.0" y2="872.5" stroke="#b4b9c0" stroke-width="1.5" />
<line x1="301.0" y1="880.6" x2="1029.0" y2="880.6" stroke="#b4b9c0" stroke-width="1.5" />
<rect x="301.0" y="873.3" width="728.0" height="6.5" fill="#fbfcfc" />
<path d="M298.5,872.0 L300.5,869.5 L311.5,869.5 L313.5,872.0 L313.5,882.0 L311.5,886.0 L300.5,886.0 L298.5,882.0 Z" fill="#f9fbfb" stroke="#b4b9c0" stroke-width="1.3" />
<path d="M356.5,872.0 L358.5,869.5 L369.5,869.5 L371.5,872.0 L371.5,882.0 L369.5,886.0 L358.5,886.0 L356.5,882.0 Z" fill="#f9fbfb" stroke="#b4b9c0" stroke-width="1.3" />
<path d="M425.5,872.0 L427.5,869.5 L438.5,869.5 L440.5,872.0 L440.5,882.0 L438.5,886.0 L427.5,886.0 L425.5,882.0 Z" fill="#f9fbfb" stroke="#b4b9c0" stroke-width="1.3" />
<path d="M493.5,872.0 L495.5,869.5 L506.5,869.5 L508.5,872.0 L508.5,882.0 L506.5,886.0 L495.5,886.0 L493.5,882.0 Z" fill="#f9fbfb" stroke="#b4b9c0" stroke-width="1.3" />
<path d="M555.5,872.0 L557.5,869.5 L568.5,869.5 L570.5,872.0 L570.5,882.0 L568.5,886.0 L557.5,886.0 L555.5,882.0 Z" fill="#f9fbfb" stroke="#b4b9c0" stroke-width="1.3" />
<path d="M623.5,872.0 L625.5,869.5 L636.5,869.5 L638.5,872.0 L638.5,882.0 L636.5,886.0 L625.5,886.0 L623.5,882.0 Z" fill="#f9fbfb" stroke="#b4b9c0" stroke-width="1.3" />
<path d="M688.5,872.0 L690.5,869.5 L701.5,869.5 L703.5,872.0 L703.5,882.0 L701.5,886.0 L690.5,886.0 L688.5,882.0 Z" fill="#f9fbfb" stroke="#b4b9c0" stroke-width="1.3" />
<path d="M765.0,872.0 L767.0,869.5 L778.0,869.5 L780.0,872.0 L780.0,882.0 L778.0,886.0 L767.0,886.0 L765.0,882.0 Z" fill="#f9fbfb" stroke="#b4b9c0" stroke-width="1.3" />
<path d="M827.5,872.0 L829.5,869.5 L840.5,869.5 L842.5,872.0 L842.5,882.0 L840.5,886.0 L829.5,886.0 L827.5,882.0 Z" fill="#f9fbfb" stroke="#b4b9c0" stroke-width="1.3" />
<path d="M893.1,872.0 L895.1,869.5 L906.1,869.5 L908.1,872.0 L908.1,882.0 L906.1,886.0 L895.1,886.0 L893.1,882.0 Z" fill="#f9fbfb" stroke="#b4b9c0" stroke-width="1.3" />
<path d="M958.5,872.0 L960.5,869.5 L971.5,869.5 L973.5,872.0 L973.5,882.0 L971.5,886.0 L960.5,886.0 L958.5,882.0 Z" fill="#f9fbfb" stroke="#b4b9c0" stroke-width="1.3" />
<line x1="1029.0" y1="869.0" x2="1029.0" y2="884.0" stroke="#b4b9c0" stroke-width="1.4" />
<rect x="513.0" y="864.0" width="10.8" height="18.0" fill="#f9fbfb" stroke="#7d838a" stroke-width="1.2" />
<line x1="518.0" y1="838.0" x2="518.0" y2="886.0" stroke="#4a4f55" stroke-width="1.4" />
<line x1="358.0" y1="866.0" x2="358.0" y2="873.0" stroke="#c9a9a7" stroke-width="1.0" />
<line x1="370.0" y1="866.0" x2="370.0" y2="873.0" stroke="#c9a9a7" stroke-width="1.0" />
<line x1="428.0" y1="866.0" x2="428.0" y2="873.0" stroke="#c9a9a7" stroke-width="1.0" />
<line x1="440.0" y1="866.0" x2="440.0" y2="873.0" stroke="#c9a9a7" stroke-width="1.0" />
<line x1="495.0" y1="866.0" x2="495.0" y2="873.0" stroke="#c9a9a7" stroke-width="1.0" />
<line x1="507.0" y1="866.0" x2="507.0" y2="873.0" stroke="#c9a9a7" stroke-width="1.0" />
<rect x="594.0" y="881.0" width="143.5" height="59.5" fill="#f5f7f7" stroke="#a9aeb4" stroke-width="1.5" />
<path d="M602.5,884.0 L602.5,932.0 L627.5,932.0 L627.5,924.0 L639.4,924.0 L639.4,932.0 L690.6,932.0 L690.6,924.0 L703.0,924.0 L703.0,932.0 L728.8,932.0 L728.8,884.0" fill="#fafbfb" stroke="#a9aeb4" stroke-width="1.5" />
<line x1="597.5" y1="881.0" x2="597.5" y2="939.0" stroke="#7d838a" stroke-width="1.2" />
<rect x="618.0" y="884.0" width="10.0" height="5.0" fill="none" stroke="#b4b9c0" stroke-width="1.0" />
<rect x="640.0" y="884.0" width="10.0" height="5.0" fill="none" stroke="#b4b9c0" stroke-width="1.0" />
<rect x="684.0" y="884.0" width="10.0" height="5.0" fill="none" stroke="#b4b9c0" stroke-width="1.0" />
<rect x="706.0" y="884.0" width="10.0" height="5.0" fill="none" stroke="#b4b9c0" stroke-width="1.0" />
<g opacity="0.85" stroke="#8a8f96" stroke-width="1.3" fill="none"><path d="M661.0,913.0 H670.0 M662.0,913.0 V908.0 H669.0 V913.0 M665.0,908.0 V903.0"/></g>
<path d="M714.0,922.0 L722.0,906.0 L728.0,906.0 L728.0,922.0 Z" fill="#c3c6ca" />
<rect x="718.0" y="924.0" width="8.0" height="6.0" fill="#b3b7bc" />
<line x1="737.0" y1="884.0" x2="737.0" y2="939.0" stroke="#7d838a" stroke-width="1.2" />
<path d="M1046.0,293.8 L1046.0,265.6 L1031.0,265.6 L1031.0,229.5 L1043.0,229.5 L1047.0,225.5 L1050.5,229.5 L1086.3,229.5 L1086.3,293.8 Z" fill="#fafbfb" stroke="#b3b7bd" stroke-width="4.6" />
<line x1="1031.0" y1="238.0" x2="1031.0" y2="258.0" stroke="#8f949b" stroke-width="2.0" />
<line x1="1045.0" y1="270.0" x2="1045.0" y2="282.0" stroke="#5f646b" stroke-width="3.0" />
<line x1="1046.0" y1="293.8" x2="1086.3" y2="293.8" stroke="#b3b7bd" stroke-width="3.0" />
<g opacity="0.9" stroke="#8a8f96" stroke-width="1.3" fill="none"><path d="M1059.0,260.0 H1068.0 M1060.0,260.0 V255.0 H1067.0 V260.0 M1063.0,255.0 V250.0"/></g>
<rect x="1078.0" y="250.0" width="4.0" height="9.0" fill="#a8adb3" />
<rect x="1107.0" y="260.0" width="73.0" height="35.5" fill="#fafbfb" stroke="#b3b7bd" stroke-width="1.6" />
<rect x="1107.0" y="260.0" width="73.0" height="5.0" fill="#c9ccd1" />
<line x1="1089.0" y1="263.5" x2="1107.0" y2="263.5" stroke="#8d9299" stroke-width="2.6" />
<rect x="1113.0" y="265.5" width="62.0" height="27.5" fill="none" stroke="#b3b7bd" stroke-width="1.3" />
<line x1="1177.0" y1="262.0" x2="1177.0" y2="281.0" stroke="#8d9299" stroke-width="3.0" />
<rect x="1173.5" y="255.0" width="4.0" height="8.0" fill="#c3c6cb" />
<g opacity="0.9" stroke="#8a8f96" stroke-width="1.3" fill="none"><path d="M1141.0,286.0 H1150.0 M1142.0,286.0 V281.0 H1149.0 V286.0 M1145.0,281.0 V276.0"/></g>
<rect x="1168.0" y="274.0" width="4.0" height="10.0" fill="#b3b7bd" />
<line x1="1107.0" y1="268.0" x2="1113.0" y2="268.0" stroke="#7d838a" stroke-width="1.0" />
<line x1="1107.0" y1="272.0" x2="1113.0" y2="272.0" stroke="#7d838a" stroke-width="1.0" />
<line x1="1107.0" y1="276.0" x2="1113.0" y2="276.0" stroke="#7d838a" stroke-width="1.0" />
<line x1="1095.0" y1="278.0" x2="1095.0" y2="292.0" stroke="#7d838a" stroke-width="1.2" />
<rect x="1101.0" y="282.0" width="4.0" height="7.0" fill="#a0a5ab" />
<rect x="1112.0" y="298.8" width="68.0" height="31.2" fill="#fafbfb" stroke="#b3b7bd" stroke-width="1.6" />
<rect x="1125.0" y="300.5" width="37.5" height="28.0" fill="#d4d7db" />
<line x1="1125.0" y1="300.5" x2="1125.0" y2="328.5" stroke="#6f747b" stroke-width="1.7" />
<line x1="1131.2" y1="300.5" x2="1131.2" y2="328.5" stroke="#6f747b" stroke-width="1.7" />
<line x1="1137.5" y1="300.5" x2="1137.5" y2="328.5" stroke="#6f747b" stroke-width="1.7" />
<line x1="1143.8" y1="300.5" x2="1143.8" y2="328.5" stroke="#6f747b" stroke-width="1.7" />
<line x1="1150.0" y1="300.5" x2="1150.0" y2="328.5" stroke="#6f747b" stroke-width="1.7" />
<line x1="1156.2" y1="300.5" x2="1156.2" y2="328.5" stroke="#6f747b" stroke-width="1.7" />
<line x1="1162.5" y1="300.5" x2="1162.5" y2="328.5" stroke="#6f747b" stroke-width="1.7" />
<line x1="1125.0" y1="300.5" x2="1162.5" y2="300.5" stroke="#6f747b" stroke-width="1.7" />
<line x1="1125.0" y1="307.5" x2="1162.5" y2="307.5" stroke="#6f747b" stroke-width="1.1" />
<line x1="1125.0" y1="314.5" x2="1162.5" y2="314.5" stroke="#6f747b" stroke-width="1.1" />
<line x1="1125.0" y1="321.5" x2="1162.5" y2="321.5" stroke="#6f747b" stroke-width="1.7" />
<line x1="1125.0" y1="328.5" x2="1162.5" y2="328.5" stroke="#6f747b" stroke-width="1.1" />
<rect x="1125.0" y="313.0" width="37.5" height="3.0" fill="#f1f3f4" />
<rect x="1103.5" y="299.0" width="8.5" height="13.0" fill="none" stroke="#b3b7bd" stroke-width="1.3" />
<rect x="1040.0" y="302.5" width="43.8" height="34.5" fill="#fafbfb" stroke="#b3b7bd" stroke-width="1.7" />
<rect x="1040.0" y="296.0" width="48.0" height="6.0" fill="#eef0f1" stroke="#b3b7bd" stroke-width="1.2" />
<rect x="1043.0" y="304.0" width="6.0" height="6.0" fill="none" stroke="#b3b7bd" stroke-width="1.1" />
<g opacity="0.9" stroke="#8a8f96" stroke-width="1.3" fill="none"><path d="M1059.0,327.0 H1068.0 M1060.0,327.0 V322.0 H1067.0 V327.0 M1063.0,322.0 V317.0"/></g>
<rect x="1077.0" y="316.0" width="4.0" height="9.0" fill="#a8adb3" />
<line x1="1088.0" y1="293.0" x2="1088.0" y2="337.0" stroke="#b3b7bd" stroke-width="1.3" />
<line x1="1112.0" y1="298.0" x2="1112.0" y2="337.0" stroke="#b3b7bd" stroke-width="1.3" />
<line x1="1085.0" y1="316.0" x2="1092.0" y2="316.0" stroke="#7d838a" stroke-width="1.2" />
<line x1="1108.0" y1="321.0" x2="1117.0" y2="321.0" stroke="#7d838a" stroke-width="1.2" />
<rect x="1097.0" y="318.0" width="6.0" height="4.0" fill="#b8bcc1" />
<line x1="1040.0" y1="300.0" x2="1040.0" y2="336.0" stroke="#8d9299" stroke-width="2.2" />
<rect x="1040.0" y="336.0" width="137.0" height="94.6" fill="#e3e7f3" />
<rect x="1040.0" y="430.6" width="137.0" height="80.0" fill="#c7f0da" />
<rect x="1040.0" y="510.6" width="137.0" height="63.4" fill="#edeff7" />
<rect x="1040.0" y="574.0" width="137.0" height="72.0" fill="#c7f0da" />
<path d="M1040.0,646.0 L1177.0,646.0 L1177.0,732.5 L1057.0,732.5 L1057.0,737.5 L1040.0,737.5 Z" fill="#e8ebf5" />
<path d="M1040.8,430.0 L1040.8,337.0 L1177.0,337.0" fill="none" stroke="#9fb1d0" stroke-width="2.0" />
<line x1="1176.3" y1="337.0" x2="1176.3" y2="430.0" stroke="#a9bbd8" stroke-width="2.0" />
<line x1="1040.0" y1="429.5" x2="1177.0" y2="429.5" stroke="#a5bdd6" stroke-width="2.6" />
<line x1="1040.0" y1="432.5" x2="1130.0" y2="432.5" stroke="#5fa57f" stroke-width="2.2" />
<line x1="1041.3" y1="432.0" x2="1041.3" y2="510.0" stroke="#8fd0ae" stroke-width="2.8" />
<line x1="1176.0" y1="432.0" x2="1176.0" y2="510.0" stroke="#a5dcbf" stroke-width="1.8" />
<line x1="1040.0" y1="509.0" x2="1177.0" y2="509.0" stroke="#90cfb3" stroke-width="3.6" />
<line x1="1041.0" y1="512.0" x2="1041.0" y2="573.0" stroke="#bcc3d1" stroke-width="1.6" />
<line x1="1176.0" y1="512.0" x2="1176.0" y2="573.0" stroke="#c4c9d6" stroke-width="1.6" />
<line x1="1040.0" y1="571.5" x2="1177.0" y2="571.5" stroke="#a9c8d2" stroke-width="2.6" />
<line x1="1040.0" y1="575.2" x2="1177.0" y2="575.2" stroke="#4f946c" stroke-width="2.6" />
<line x1="1041.3" y1="576.0" x2="1041.3" y2="646.0" stroke="#7fc39f" stroke-width="2.8" />
<line x1="1176.0" y1="576.0" x2="1176.0" y2="646.0" stroke="#a5dcbf" stroke-width="1.8" />
<line x1="1040.0" y1="645.2" x2="1177.0" y2="645.2" stroke="#86c6a4" stroke-width="3.2" />
<line x1="1041.0" y1="647.0" x2="1041.0" y2="737.0" stroke="#a9b7d2" stroke-width="1.8" />
<line x1="1176.2" y1="647.0" x2="1176.2" y2="732.0" stroke="#b9c5dc" stroke-width="1.8" />
<path d="M1177.0,732.5 L1057.0,732.5 L1057.0,737.5 L1040.0,737.5" fill="none" stroke="#8fa8cf" stroke-width="2.0" />
<line x1="1039.6" y1="336.0" x2="1039.6" y2="776.0" stroke="#a6aeb8" stroke-width="1.4" />
<line x1="1182.5" y1="260.0" x2="1182.5" y2="874.0" stroke="#aaa3a5" stroke-width="2.6" />
<line x1="1179.3" y1="336.0" x2="1179.3" y2="740.0" stroke="#d2c4c6" stroke-width="1.0" />
<rect x="1176.8" y="355.0" width="4.5" height="13.0" fill="none" stroke="#b8bcc2" stroke-width="0.9" />
<rect x="1176.8" y="455.0" width="4.5" height="13.0" fill="none" stroke="#b8bcc2" stroke-width="0.9" />
<rect x="1176.8" y="520.0" width="4.5" height="13.0" fill="none" stroke="#b8bcc2" stroke-width="0.9" />
<rect x="1176.8" y="600.0" width="4.5" height="13.0" fill="none" stroke="#b8bcc2" stroke-width="0.9" />
<rect x="1176.8" y="690.0" width="4.5" height="13.0" fill="none" stroke="#b8bcc2" stroke-width="0.9" />
<rect x="1112.0" y="339.0" width="27.0" height="20.0" fill="none" stroke="#a4a9b0" stroke-width="2.4" />
<line x1="1125.5" y1="339.0" x2="1125.5" y2="359.0" stroke="#a4a9b0" stroke-width="1.2" />
<line x1="1115.0" y1="349.0" x2="1136.0" y2="349.0" stroke="#a4a9b0" stroke-width="1.2" />
<rect x="1115.0" y="342.0" width="8.5" height="7.0" fill="none" stroke="#a4a9b0" stroke-width="0.9" />
<rect x="1127.5" y="350.0" width="8.5" height="6.0" fill="none" stroke="#a4a9b0" stroke-width="0.9" />
<line x1="1112.0" y1="337.0" x2="1112.0" y2="370.0" stroke="#a4a9b0" stroke-width="1.4" />
<rect x="1109.0" y="357.0" width="6.0" height="13.0" fill="none" stroke="#b4b9c0" stroke-width="1.1" />
<rect x="1109.0" y="425.0" width="6.0" height="16.0" fill="none" stroke="#b4b9c0" stroke-width="1.1" />
<rect x="1083.0" y="488.8" width="27.6" height="19.7" fill="none" stroke="#86a894" stroke-width="2.4" />
<line x1="1097.0" y1="490.0" x2="1097.0" y2="508.0" stroke="#86a894" stroke-width="1.2" />
<line x1="1086.0" y1="498.0" x2="1108.0" y2="498.0" stroke="#86a894" stroke-width="1.2" />
<rect x="1083.0" y="511.0" width="27.6" height="22.0" fill="none" stroke="#a4a9b0" stroke-width="2.4" />
<line x1="1097.0" y1="512.0" x2="1097.0" y2="532.0" stroke="#a4a9b0" stroke-width="1.2" />
<line x1="1086.0" y1="522.0" x2="1108.0" y2="522.0" stroke="#a4a9b0" stroke-width="1.2" />
<rect x="1109.0" y="558.0" width="6.0" height="18.0" fill="none" stroke="#b4b9c0" stroke-width="1.1" />
<rect x="1083.0" y="624.0" width="27.0" height="22.0" fill="none" stroke="#4f8b68" stroke-width="2.6" />
<line x1="1096.5" y1="624.0" x2="1096.5" y2="646.0" stroke="#4f8b68" stroke-width="1.2" />
<line x1="1086.0" y1="635.0" x2="1107.0" y2="635.0" stroke="#4f8b68" stroke-width="1.2" />
<rect x="1086.0" y="627.0" width="8.5" height="8.0" fill="none" stroke="#4f8b68" stroke-width="0.9" />
<rect x="1098.5" y="636.0" width="8.5" height="7.0" fill="none" stroke="#4f8b68" stroke-width="0.9" />
<rect x="1110.0" y="634.0" width="5.0" height="12.0" fill="none" stroke="#7fae93" stroke-width="1.1" />
<rect x="1110.0" y="713.0" width="26.0" height="20.0" fill="none" stroke="#8e949c" stroke-width="2.6" />
<line x1="1123.0" y1="713.0" x2="1123.0" y2="733.0" stroke="#8e949c" stroke-width="1.2" />
<line x1="1113.0" y1="723.0" x2="1133.0" y2="723.0" stroke="#8e949c" stroke-width="1.2" />
<rect x="1113.0" y="716.0" width="8.0" height="7.0" fill="none" stroke="#8e949c" stroke-width="0.9" />
<rect x="1125.0" y="724.0" width="8.0" height="6.0" fill="none" stroke="#8e949c" stroke-width="0.9" />
<rect x="1043.0" y="705.0" width="17.0" height="26.0" fill="none" stroke="#c0c4cb" stroke-width="1.2" />
<rect x="1062.0" y="708.0" width="28.0" height="14.0" fill="none" stroke="#c0c4cb" stroke-width="1.2" />
<rect x="1062.0" y="722.0" width="20.0" height="11.0" fill="none" stroke="#c8ccd2" stroke-width="1.0" />
<g opacity="0.75" stroke="#8a8f96" stroke-width="1.3" fill="none"><path d="M1103.0,393.0 H1112.0 M1104.0,393.0 V388.0 H1111.0 V393.0 M1107.0,388.0 V383.0"/></g>
<g opacity="0.75" stroke="#8a8f96" stroke-width="1.3" fill="none"><path d="M1103.0,473.0 H1112.0 M1104.0,473.0 V468.0 H1111.0 V473.0 M1107.0,468.0 V463.0"/></g>
<g opacity="0.75" stroke="#8a8f96" stroke-width="1.3" fill="none"><path d="M1103.0,543.0 H1112.0 M1104.0,543.0 V538.0 H1111.0 V543.0 M1107.0,538.0 V533.0"/></g>
<g opacity="0.75" stroke="#8a8f96" stroke-width="1.3" fill="none"><path d="M1103.0,614.0 H1112.0 M1104.0,614.0 V609.0 H1111.0 V614.0 M1107.0,609.0 V604.0"/></g>
<g opacity="0.75" stroke="#8a8f96" stroke-width="1.3" fill="none"><path d="M1103.0,681.0 H1112.0 M1104.0,681.0 V676.0 H1111.0 V681.0 M1107.0,676.0 V671.0"/></g>
<rect x="1043.0" y="435.0" width="5.0" height="9.0" fill="none" stroke="#9fc9b0" stroke-width="0.9" />
<rect x="1043.0" y="500.0" width="5.0" height="9.0" fill="none" stroke="#9fc9b0" stroke-width="0.9" />
<rect x="1043.0" y="578.0" width="5.0" height="9.0" fill="none" stroke="#9fc9b0" stroke-width="0.9" />
<rect x="1043.0" y="636.0" width="5.0" height="9.0" fill="none" stroke="#9fc9b0" stroke-width="0.9" />
<rect x="1110.6" y="740.0" width="71.9" height="37.0" fill="#f6f8f8" stroke="#b3b7bd" stroke-width="1.6" />
<rect x="1113.5" y="745.0" width="64.5" height="30.0" fill="#fafbfb" stroke="#b3b7bd" stroke-width="1.3" />
<rect x="1123.8" y="746.0" width="37.2" height="28.5" fill="#d4d7db" />
<line x1="1123.8" y1="746.0" x2="1123.8" y2="774.5" stroke="#6f747b" stroke-width="1.7" />
<line x1="1130.0" y1="746.0" x2="1130.0" y2="774.5" stroke="#6f747b" stroke-width="1.7" />
<line x1="1136.2" y1="746.0" x2="1136.2" y2="774.5" stroke="#6f747b" stroke-width="1.7" />
<line x1="1142.4" y1="746.0" x2="1142.4" y2="774.5" stroke="#6f747b" stroke-width="1.7" />
<line x1="1148.6" y1="746.0" x2="1148.6" y2="774.5" stroke="#6f747b" stroke-width="1.7" />
<line x1="1154.8" y1="746.0" x2="1154.8" y2="774.5" stroke="#6f747b" stroke-width="1.7" />
<line x1="1161.0" y1="746.0" x2="1161.0" y2="774.5" stroke="#6f747b" stroke-width="1.7" />
<line x1="1123.8" y1="746.0" x2="1161.0" y2="746.0" stroke="#6f747b" stroke-width="1.7" />
<line x1="1123.8" y1="753.1" x2="1161.0" y2="753.1" stroke="#6f747b" stroke-width="1.1" />
<line x1="1123.8" y1="760.2" x2="1161.0" y2="760.2" stroke="#6f747b" stroke-width="1.1" />
<line x1="1123.8" y1="767.4" x2="1161.0" y2="767.4" stroke="#6f747b" stroke-width="1.7" />
<line x1="1123.8" y1="774.5" x2="1161.0" y2="774.5" stroke="#6f747b" stroke-width="1.1" />
<rect x="1123.8" y="759.0" width="37.2" height="3.0" fill="#f1f3f4" />
<line x1="1181.0" y1="750.0" x2="1181.0" y2="770.0" stroke="#8d9299" stroke-width="3.0" />
<line x1="1090.0" y1="734.5" x2="1110.0" y2="734.5" stroke="#7a4045" stroke-width="2.4" />
<path d="M1040.0,740.0 L1057.0,740.0 L1057.0,746.0 L1090.0,746.0 L1090.0,737.0" fill="none" stroke="#c9a6a8" stroke-width="1.3" />
<rect x="1064.0" y="735.0" width="12.0" height="5.0" fill="#6f747b" />
<rect x="1071.0" y="742.0" width="5.0" height="6.0" fill="#6f747b" />
<rect x="1102.0" y="740.0" width="5.0" height="6.0" fill="#6f747b" />
<rect x="1096.0" y="752.0" width="7.0" height="8.0" fill="#6f747b" />
<rect x="1083.0" y="752.0" width="4.0" height="6.0" fill="#6f747b" />
<line x1="1040.0" y1="754.0" x2="1040.0" y2="764.0" stroke="#4f545b" stroke-width="3.0" />
<line x1="1035.0" y1="758.0" x2="1046.0" y2="758.0" stroke="#6f747b" stroke-width="1.3" />
<line x1="1043.0" y1="765.0" x2="1051.0" y2="765.0" stroke="#7d838a" stroke-width="1.2" />
<line x1="1051.0" y1="765.0" x2="1051.0" y2="772.0" stroke="#7d838a" stroke-width="1.2" />
<line x1="1092.0" y1="762.0" x2="1092.0" y2="772.0" stroke="#4f545b" stroke-width="2.0" />
<rect x="1076.5" y="769.0" width="32.5" height="42.0" fill="#fafbfb" stroke="#b3b7bd" stroke-width="3.2" />
<line x1="1076.5" y1="793.8" x2="1109.0" y2="793.8" stroke="#b3b7bd" stroke-width="2.4" />
<line x1="1092.0" y1="787.0" x2="1092.0" y2="815.0" stroke="#7d838a" stroke-width="1.2" />
<rect x="1079.0" y="776.0" width="4.0" height="8.0" fill="#a8adb3" />
<rect x="1103.0" y="797.0" width="4.0" height="8.0" fill="#a8adb3" />
<rect x="1073.8" y="777.0" width="108.7" height="97.3" fill="#f9fbfb" stroke="#b3b7bd" stroke-width="1.5" />
<rect x="1111.5" y="780.5" width="67.0" height="90.0" fill="none" stroke="#c6cace" stroke-width="1.1" />
<line x1="1073.8" y1="812.0" x2="1073.8" y2="846.0" stroke="#b3b7bd" stroke-width="1.4" />
<line x1="1047.0" y1="810.6" x2="1110.0" y2="810.6" stroke="#b3b7bd" stroke-width="3.0" />
<rect x="1106.5" y="808.5" width="7.0" height="7.5" fill="#fafbfb" stroke="#b3b7bd" stroke-width="1.3" />
<g opacity="0.9" stroke="#8a8f96" stroke-width="1.3" fill="none"><path d="M1132.0,832.0 H1141.0 M1133.0,832.0 V827.0 H1140.0 V832.0 M1136.0,827.0 V822.0"/></g>
<rect x="1170.0" y="820.0" width="4.0" height="11.0" fill="#a8adb3" />
<rect x="1076.5" y="769.0" width="32.5" height="42.0" fill="#fafbfb" stroke="#b3b7bd" stroke-width="3.2" />
<line x1="1076.5" y1="793.8" x2="1109.0" y2="793.8" stroke="#b3b7bd" stroke-width="2.4" />
<line x1="1092.0" y1="765.0" x2="1092.0" y2="815.0" stroke="#7d838a" stroke-width="1.2" />
<rect x="1079.0" y="776.0" width="4.0" height="8.0" fill="#a8adb3" />
<rect x="1103.0" y="797.0" width="4.0" height="8.0" fill="#a8adb3" />
<rect x="1042.0" y="846.0" width="68.0" height="42.0" fill="#f6ebd2" />
<path d="M1045.0,887.5 L1175.6,887.5 L1175.6,900.0 L1179.4,900.0 L1179.4,961.0 L1045.0,961.0 Z" fill="#f7ecd3" />
<line x1="1042.0" y1="846.6" x2="1092.0" y2="846.6" stroke="#c98d88" stroke-width="1.7" />
<line x1="1092.0" y1="846.6" x2="1110.0" y2="846.6" stroke="#6f6c66" stroke-width="2.2" />
<line x1="1109.3" y1="846.0" x2="1109.3" y2="874.0" stroke="#6c6962" stroke-width="3.0" />
<line x1="1047.0" y1="887.8" x2="1107.0" y2="887.8" stroke="#b5aa90" stroke-width="2.2" />
<line x1="1042.5" y1="847.0" x2="1042.5" y2="888.0" stroke="#e4d7b9" stroke-width="1.4" />
<line x1="1045.5" y1="888.0" x2="1045.5" y2="961.0" stroke="#e4d7b9" stroke-width="1.6" />
<line x1="1180.0" y1="900.0" x2="1180.0" y2="961.0" stroke="#8f8e84" stroke-width="2.4" />
<line x1="1110.0" y1="888.5" x2="1176.0" y2="888.5" stroke="#e3d8bd" stroke-width="1.4" />
<rect x="1046.5" y="939.0" width="24.5" height="21.0" fill="none" stroke="#a9a089" stroke-width="2.6" />
<line x1="1059.0" y1="941.0" x2="1059.0" y2="960.0" stroke="#a9a089" stroke-width="1.2" />
<line x1="1049.0" y1="949.0" x2="1069.0" y2="949.0" stroke="#a9a089" stroke-width="1.2" />
<g opacity="0.9" stroke="#9a927c" stroke-width="1.3" fill="none"><path d="M1071.0,872.0 H1080.0 M1072.0,872.0 V867.0 H1079.0 V872.0 M1075.0,867.0 V862.0"/></g>
<g opacity="0.9" stroke="#9a927c" stroke-width="1.3" fill="none"><path d="M1103.0,926.0 H1112.0 M1104.0,926.0 V921.0 H1111.0 V926.0 M1107.0,921.0 V916.0"/></g>
<rect x="1100.0" y="862.0" width="4.0" height="10.0" fill="#b8ae94" />
<rect x="1051.0" y="918.0" width="3.0" height="9.0" fill="#b8ae94" />
<rect x="1045.0" y="961.0" width="135.0" height="65.0" fill="#c6edd4" />
<line x1="1045.0" y1="962.3" x2="1175.0" y2="962.3" stroke="#3f7c57" stroke-width="3.0" />
<line x1="1046.3" y1="962.0" x2="1046.3" y2="1026.0" stroke="#8ccda6" stroke-width="2.8" />
<line x1="1178.8" y1="962.0" x2="1178.8" y2="1026.0" stroke="#86c6a0" stroke-width="2.8" />
<line x1="1045.0" y1="1025.0" x2="1180.0" y2="1025.0" stroke="#8ccda6" stroke-width="2.8" />
<rect x="1047.0" y="965.0" width="24.0" height="17.5" fill="none" stroke="#4c8463" stroke-width="3.0" />
<line x1="1059.0" y1="966.0" x2="1059.0" y2="982.0" stroke="#4c8463" stroke-width="1.2" />
<g opacity="0.9" stroke="#5f9778" stroke-width="1.3" fill="none"><path d="M1105.0,997.0 H1114.0 M1106.0,997.0 V992.0 H1113.0 V997.0 M1109.0,992.0 V987.0"/></g>
<rect x="1085.0" y="988.0" width="3.0" height="10.0" fill="#7fae93" />
<line x1="985.0" y1="1027.5" x2="1236.0" y2="1027.5" stroke="#b1b6bc" stroke-width="2.6" />
<rect x="986.0" y="1027.0" width="249.0" height="236.0" fill="#f1f3f4" />
<rect x="993.0" y="1030.6" width="238.0" height="110.9" fill="#cfdcf3" />
<rect x="993.0" y="1143.0" width="79.3" height="117.5" fill="#f8eee6" />
<rect x="1072.3" y="1143.0" width="158.7" height="59.5" fill="#f9f5c6" />
<rect x="1072.3" y="1202.5" width="158.7" height="58.0" fill="#ece7f1" />
<rect x="993.0" y="1030.6" width="238.0" height="110.4" fill="none" stroke="#9fb1d0" stroke-width="2.0" />
<line x1="993.0" y1="1141.8" x2="1231.0" y2="1141.8" stroke="#8b9bb6" stroke-width="3.4" />
<line x1="1110.6" y1="1031.0" x2="1110.6" y2="1086.0" stroke="#8493ad" stroke-width="1.6" />
<line x1="1110.0" y1="1086.0" x2="1231.0" y2="1086.0" stroke="#6c7a93" stroke-width="2.0" />
<line x1="1108.0" y1="1086.0" x2="1108.0" y2="1141.0" stroke="#5a6579" stroke-width="2.6" />
<rect x="1086.0" y="1123.0" width="46.5" height="18.0" fill="#b9c4d8" stroke="#4f5868" stroke-width="3.0" />
<line x1="1120.0" y1="1125.0" x2="1120.0" y2="1140.0" stroke="#4f5868" stroke-width="1.2" />
<line x1="1097.0" y1="1125.0" x2="1092.0" y2="1140.0" stroke="#6a7383" stroke-width="1.2" />
<rect x="1062.5" y="1031.5" width="23.1" height="7.5" fill="none" stroke="#d59c9c" stroke-width="1.5" />
<rect x="1106.0" y="1032.0" width="4.0" height="7.0" fill="none" stroke="#8493ad" stroke-width="1.0" />
<g opacity="0.9" stroke="#8f9bb3" stroke-width="1.3" fill="none"><path d="M1038.0,1092.0 H1047.0 M1039.0,1092.0 V1087.0 H1046.0 V1092.0 M1042.0,1087.0 V1082.0"/></g>
<g opacity="0.9" stroke="#7d8aa3" stroke-width="1.3" fill="none"><path d="M1167.0,1122.0 H1176.0 M1168.0,1122.0 V1117.0 H1175.0 V1122.0 M1171.0,1117.0 V1112.0"/></g>
<line x1="1154.0" y1="1141.8" x2="1172.0" y2="1141.8" stroke="#5c6168" stroke-width="2.6" />
<line x1="990.0" y1="1027.0" x2="990.0" y2="1262.0" stroke="#bfc3c8" stroke-width="1.6" />
<line x1="1233.3" y1="1027.0" x2="1233.3" y2="1262.0" stroke="#9da5ae" stroke-width="2.6" />
<line x1="986.0" y1="1262.0" x2="1235.0" y2="1262.0" stroke="#b0b4b9" stroke-width="3.4" />
<line x1="1050.0" y1="1262.0" x2="1150.0" y2="1262.0" stroke="#9a9ea4" stroke-width="2.0" />
<line x1="1072.3" y1="1163.0" x2="1072.3" y2="1260.0" stroke="#e2d9c2" stroke-width="1.4" />
<line x1="1072.3" y1="1202.5" x2="1231.0" y2="1202.5" stroke="#d9d2c0" stroke-width="1.4" />
<rect x="1048.0" y="1145.5" width="47.6" height="17.0" fill="none" stroke="#a99b87" stroke-width="2.8" />
<line x1="1072.0" y1="1147.0" x2="1072.0" y2="1162.0" stroke="#a99b87" stroke-width="1.2" />
<line x1="1060.0" y1="1147.0" x2="1060.0" y2="1162.0" stroke="#a99b87" stroke-width="1.2" />
<line x1="1084.0" y1="1147.0" x2="1084.0" y2="1162.0" stroke="#c5b98f" stroke-width="1.2" />
<line x1="1107.5" y1="1204.0" x2="1107.5" y2="1260.0" stroke="#b9b5c0" stroke-width="1.5" />
<line x1="1110.5" y1="1204.0" x2="1110.5" y2="1260.0" stroke="#cbc7d1" stroke-width="1.0" />
<rect x="1073.5" y="1205.5" width="22.5" height="17.0" fill="none" stroke="#aaa7b2" stroke-width="2.2" />
<line x1="1085.0" y1="1207.0" x2="1085.0" y2="1222.0" stroke="#aaa7b2" stroke-width="1.1" />
<rect x="1079.0" y="1236.0" width="3.0" height="8.0" fill="#b5b1bc" />
<g opacity="0.8" stroke="#a5a1ad" stroke-width="1.3" fill="none"><path d="M1087.0,1248.0 H1096.0 M1088.0,1248.0 V1243.0 H1095.0 V1248.0 M1091.0,1243.0 V1238.0"/></g>
<rect x="1108.0" y="1198.0" width="7.0" height="3.0" fill="#b9b5a5" />
</g>
<g filter="url(#bl)" fill="none" stroke-linecap="butt" stroke-linejoin="miter">
<rect x="561.5" y="366.5" width="16.0" height="24.0" fill="#e8f1fb" />
<path d="M577.5,372.5 V366.5 M577.5,390.5 V384.5" fill="none" stroke="#a9b8c9" stroke-width="1.8" />
<path d="M578.4,366.5 H561.5 V390.5 H578.4" fill="none" stroke="#75899c" stroke-width="1.9" />
<path d="M582.5,378.5 H567.0" fill="none" stroke="#5f7a9c" stroke-width="1.7" />
<path d="M571.0,374.0 L566.5,378.5 L571.0,383.0" fill="none" stroke="#5f7a9c" stroke-width="1.7" />
<line x1="588.5" y1="382.5" x2="601.5" y2="382.5" stroke="#8f9ca6" stroke-width="1.2" />
<rect x="561.5" y="408.6" width="16.0" height="24.0" fill="#e8f1fb" />
<path d="M577.5,414.6 V408.6 M577.5,432.6 V426.6" fill="none" stroke="#a9b8c9" stroke-width="1.8" />
<path d="M578.4,408.6 H561.5 V432.6 H578.4" fill="none" stroke="#75899c" stroke-width="1.9" />
<path d="M582.5,420.6 H567.0" fill="none" stroke="#5f7a9c" stroke-width="1.7" />
<path d="M571.0,416.1 L566.5,420.6 L571.0,425.1" fill="none" stroke="#5f7a9c" stroke-width="1.7" />
<line x1="588.5" y1="424.6" x2="601.5" y2="424.6" stroke="#8f9ca6" stroke-width="1.2" />
<rect x="561.5" y="473.0" width="16.0" height="24.0" fill="#e8f1fb" />
<path d="M577.5,479 V473 M577.5,497 V491" fill="none" stroke="#a9b8c9" stroke-width="1.8" />
<path d="M578.4,473 H561.5 V497 H578.4" fill="none" stroke="#75899c" stroke-width="1.9" />
<path d="M582.5,485 H567.0" fill="none" stroke="#5f7a9c" stroke-width="1.7" />
<path d="M571.0,480.5 L566.5,485 L571.0,489.5" fill="none" stroke="#5f7a9c" stroke-width="1.7" />
<line x1="588.5" y1="489.0" x2="601.5" y2="489.0" stroke="#8f9ca6" stroke-width="1.2" />
<rect x="561.5" y="506.0" width="16.0" height="24.0" fill="#e8f1fb" />
<path d="M577.5,512 V506 M577.5,530 V524" fill="none" stroke="#a9b8c9" stroke-width="1.8" />
<path d="M578.4,506 H561.5 V530 H578.4" fill="none" stroke="#75899c" stroke-width="1.9" />
<path d="M582.5,518 H567.0" fill="none" stroke="#5f7a9c" stroke-width="1.7" />
<path d="M571.0,513.5 L566.5,518 L571.0,522.5" fill="none" stroke="#5f7a9c" stroke-width="1.7" />
<line x1="588.5" y1="522.0" x2="601.5" y2="522.0" stroke="#8f9ca6" stroke-width="1.2" />
<rect x="561.5" y="607.4" width="16.0" height="24.0" fill="#e8f1fb" />
<path d="M577.5,613.4 V607.4 M577.5,631.4 V625.4" fill="none" stroke="#a9b8c9" stroke-width="1.8" />
<path d="M578.4,607.4 H561.5 V631.4 H578.4" fill="none" stroke="#75899c" stroke-width="1.9" />
<path d="M582.5,619.4 H567.0" fill="none" stroke="#5f7a9c" stroke-width="1.7" />
<path d="M571.0,614.9 L566.5,619.4 L571.0,623.9" fill="none" stroke="#5f7a9c" stroke-width="1.7" />
<line x1="588.5" y1="623.4" x2="601.5" y2="623.4" stroke="#8f9ca6" stroke-width="1.2" />
<rect x="561.5" y="638.6" width="16.0" height="24.0" fill="#e8f1fb" />
<path d="M577.5,644.6 V638.6 M577.5,662.6 V656.6" fill="none" stroke="#a9b8c9" stroke-width="1.8" />
<path d="M578.4,638.6 H561.5 V662.6 H578.4" fill="none" stroke="#75899c" stroke-width="1.9" />
<path d="M582.5,650.6 H567.0" fill="none" stroke="#5f7a9c" stroke-width="1.7" />
<path d="M571.0,646.1 L566.5,650.6 L571.0,655.1" fill="none" stroke="#5f7a9c" stroke-width="1.7" />
<line x1="588.5" y1="654.6" x2="601.5" y2="654.6" stroke="#8f9ca6" stroke-width="1.2" />
<rect x="561.5" y="735.5" width="16.0" height="24.0" fill="#e8f1fb" />
<path d="M577.5,741.5 V735.5 M577.5,759.5 V753.5" fill="none" stroke="#a9b8c9" stroke-width="1.8" />
<path d="M578.4,735.5 H561.5 V759.5 H578.4" fill="none" stroke="#75899c" stroke-width="1.9" />
<path d="M582.5,747.5 H567.0" fill="none" stroke="#5f7a9c" stroke-width="1.7" />
<path d="M571.0,743.0 L566.5,747.5 L571.0,752.0" fill="none" stroke="#5f7a9c" stroke-width="1.7" />
<line x1="588.5" y1="751.5" x2="601.5" y2="751.5" stroke="#8f9ca6" stroke-width="1.2" />
<rect x="759.5" y="375.0" width="16.0" height="24.0" fill="#e8f1fb" />
<path d="M759.5,381 V375 M759.5,399 V393" fill="none" stroke="#a9b8c9" stroke-width="1.8" />
<path d="M758.6,375 H775.5 V399 H758.6" fill="none" stroke="#75899c" stroke-width="1.9" />
<path d="M754.5,387 H770.0" fill="none" stroke="#5f7a9c" stroke-width="1.7" />
<path d="M766.0,382.5 L770.5,387 L766.0,391.5" fill="none" stroke="#5f7a9c" stroke-width="1.7" />
<line x1="734.5" y1="387.0" x2="748.5" y2="387.0" stroke="#8f9ca6" stroke-width="1.2" />
<rect x="759.5" y="476.8" width="16.0" height="24.0" fill="#e8f1fb" />
<path d="M759.5,482.8 V476.8 M759.5,500.8 V494.8" fill="none" stroke="#a9b8c9" stroke-width="1.8" />
<path d="M758.6,476.8 H775.5 V500.8 H758.6" fill="none" stroke="#75899c" stroke-width="1.9" />
<path d="M754.5,488.8 H770.0" fill="none" stroke="#5f7a9c" stroke-width="1.7" />
<path d="M766.0,484.3 L770.5,488.8 L766.0,493.3" fill="none" stroke="#5f7a9c" stroke-width="1.7" />
<line x1="734.5" y1="488.8" x2="748.5" y2="488.8" stroke="#8f9ca6" stroke-width="1.2" />
<rect x="759.5" y="506.8" width="16.0" height="24.0" fill="#e8f1fb" />
<path d="M759.5,512.8 V506.79999999999995 M759.5,530.8 V524.8" fill="none" stroke="#a9b8c9" stroke-width="1.8" />
<path d="M758.6,506.79999999999995 H775.5 V530.8 H758.6" fill="none" stroke="#75899c" stroke-width="1.9" />
<path d="M754.5,518.8 H770.0" fill="none" stroke="#5f7a9c" stroke-width="1.7" />
<path d="M766.0,514.3 L770.5,518.8 L766.0,523.3" fill="none" stroke="#5f7a9c" stroke-width="1.7" />
<line x1="734.5" y1="518.8" x2="748.5" y2="518.8" stroke="#8f9ca6" stroke-width="1.2" />
<rect x="759.5" y="611.8" width="16.0" height="24.0" fill="#e8f1fb" />
<path d="M759.5,617.8 V611.8 M759.5,635.8 V629.8" fill="none" stroke="#a9b8c9" stroke-width="1.8" />
<path d="M758.6,611.8 H775.5 V635.8 H758.6" fill="none" stroke="#75899c" stroke-width="1.9" />
<path d="M754.5,623.8 H770.0" fill="none" stroke="#5f7a9c" stroke-width="1.7" />
<path d="M766.0,619.3 L770.5,623.8 L766.0,628.3" fill="none" stroke="#5f7a9c" stroke-width="1.7" />
<line x1="734.5" y1="623.8" x2="748.5" y2="623.8" stroke="#8f9ca6" stroke-width="1.2" />
<rect x="759.5" y="641.0" width="16.0" height="24.0" fill="#e8f1fb" />
<path d="M759.5,647 V641 M759.5,665 V659" fill="none" stroke="#a9b8c9" stroke-width="1.8" />
<path d="M758.6,641 H775.5 V665 H758.6" fill="none" stroke="#75899c" stroke-width="1.9" />
<path d="M754.5,653 H770.0" fill="none" stroke="#5f7a9c" stroke-width="1.7" />
<path d="M766.0,648.5 L770.5,653 L766.0,657.5" fill="none" stroke="#5f7a9c" stroke-width="1.7" />
<line x1="734.5" y1="653.0" x2="748.5" y2="653.0" stroke="#8f9ca6" stroke-width="1.2" />
<rect x="1009.5" y="375.5" width="16.0" height="24.0" fill="#e8f1fb" />
<path d="M1025.5,381.5 V375.5 M1025.5,399.5 V393.5" fill="none" stroke="#a9b8c9" stroke-width="1.8" />
<path d="M1026.4,375.5 H1009.5 V399.5 H1026.4" fill="none" stroke="#75899c" stroke-width="1.9" />
<path d="M1030.5,387.5 H1015.0" fill="none" stroke="#5f7a9c" stroke-width="1.7" />
<path d="M1019.0,383.0 L1014.5,387.5 L1019.0,392.0" fill="none" stroke="#5f7a9c" stroke-width="1.7" />
<line x1="1036.5" y1="391.5" x2="1049.5" y2="391.5" stroke="#8f9ca6" stroke-width="1.2" />
<rect x="1009.5" y="484.0" width="16.0" height="24.0" fill="#e8f1fb" />
<path d="M1025.5,490 V484 M1025.5,508 V502" fill="none" stroke="#a9b8c9" stroke-width="1.8" />
<path d="M1026.4,484 H1009.5 V508 H1026.4" fill="none" stroke="#75899c" stroke-width="1.9" />
<path d="M1030.5,496 H1015.0" fill="none" stroke="#5f7a9c" stroke-width="1.7" />
<path d="M1019.0,491.5 L1014.5,496 L1019.0,500.5" fill="none" stroke="#5f7a9c" stroke-width="1.7" />
<line x1="1036.5" y1="500.0" x2="1049.5" y2="500.0" stroke="#8f9ca6" stroke-width="1.2" />
<rect x="1009.5" y="515.5" width="16.0" height="24.0" fill="#e8f1fb" />
<path d="M1025.5,521.5 V515.5 M1025.5,539.5 V533.5" fill="none" stroke="#a9b8c9" stroke-width="1.8" />
<path d="M1026.4,515.5 H1009.5 V539.5 H1026.4" fill="none" stroke="#75899c" stroke-width="1.9" />
<path d="M1030.5,527.5 H1015.0" fill="none" stroke="#5f7a9c" stroke-width="1.7" />
<path d="M1019.0,523.0 L1014.5,527.5 L1019.0,532.0" fill="none" stroke="#5f7a9c" stroke-width="1.7" />
<line x1="1036.5" y1="531.5" x2="1049.5" y2="531.5" stroke="#8f9ca6" stroke-width="1.2" />
<rect x="1009.5" y="615.5" width="16.0" height="24.0" fill="#e8f1fb" />
<path d="M1025.5,621.5 V615.5 M1025.5,639.5 V633.5" fill="none" stroke="#a9b8c9" stroke-width="1.8" />
<path d="M1026.4,615.5 H1009.5 V639.5 H1026.4" fill="none" stroke="#75899c" stroke-width="1.9" />
<path d="M1030.5,627.5 H1015.0" fill="none" stroke="#5f7a9c" stroke-width="1.7" />
<path d="M1019.0,623.0 L1014.5,627.5 L1019.0,632.0" fill="none" stroke="#5f7a9c" stroke-width="1.7" />
<line x1="1036.5" y1="631.5" x2="1049.5" y2="631.5" stroke="#8f9ca6" stroke-width="1.2" />
<rect x="1009.5" y="645.0" width="16.0" height="24.0" fill="#e8f1fb" />
<path d="M1025.5,651 V645 M1025.5,669 V663" fill="none" stroke="#a9b8c9" stroke-width="1.8" />
<path d="M1026.4,645 H1009.5 V669 H1026.4" fill="none" stroke="#75899c" stroke-width="1.9" />
<path d="M1030.5,657 H1015.0" fill="none" stroke="#5f7a9c" stroke-width="1.7" />
<path d="M1019.0,652.5 L1014.5,657 L1019.0,661.5" fill="none" stroke="#5f7a9c" stroke-width="1.7" />
<line x1="1036.5" y1="661.0" x2="1049.5" y2="661.0" stroke="#8f9ca6" stroke-width="1.2" />
<rect x="1197.0" y="404.0" width="16.0" height="24.0" fill="#e8f1fb" />
<path d="M1197,410 V404 M1197,428 V422" fill="none" stroke="#a9b8c9" stroke-width="1.8" />
<path d="M1196.1,404 H1213 V428 H1196.1" fill="none" stroke="#75899c" stroke-width="1.9" />
<path d="M1192,416 H1207.5" fill="none" stroke="#5f7a9c" stroke-width="1.7" />
<path d="M1203.5,411.5 L1208,416 L1203.5,420.5" fill="none" stroke="#5f7a9c" stroke-width="1.7" />
<line x1="1172.0" y1="416.0" x2="1186.0" y2="416.0" stroke="#8f9ca6" stroke-width="1.2" />
<rect x="1197.0" y="434.0" width="16.0" height="24.0" fill="#e8f1fb" />
<path d="M1197,440 V434 M1197,458 V452" fill="none" stroke="#a9b8c9" stroke-width="1.8" />
<path d="M1196.1,434 H1213 V458 H1196.1" fill="none" stroke="#75899c" stroke-width="1.9" />
<path d="M1192,446 H1207.5" fill="none" stroke="#5f7a9c" stroke-width="1.7" />
<path d="M1203.5,441.5 L1208,446 L1203.5,450.5" fill="none" stroke="#5f7a9c" stroke-width="1.7" />
<line x1="1172.0" y1="446.0" x2="1186.0" y2="446.0" stroke="#8f9ca6" stroke-width="1.2" />
<rect x="1197.0" y="540.0" width="16.0" height="24.0" fill="#e8f1fb" />
<path d="M1197,546 V540 M1197,564 V558" fill="none" stroke="#a9b8c9" stroke-width="1.8" />
<path d="M1196.1,540 H1213 V564 H1196.1" fill="none" stroke="#75899c" stroke-width="1.9" />
<path d="M1192,552 H1207.5" fill="none" stroke="#5f7a9c" stroke-width="1.7" />
<path d="M1203.5,547.5 L1208,552 L1203.5,556.5" fill="none" stroke="#5f7a9c" stroke-width="1.7" />
<line x1="1172.0" y1="552.0" x2="1186.0" y2="552.0" stroke="#8f9ca6" stroke-width="1.2" />
<rect x="1197.0" y="574.0" width="16.0" height="24.0" fill="#e8f1fb" />
<path d="M1197,580 V574 M1197,598 V592" fill="none" stroke="#a9b8c9" stroke-width="1.8" />
<path d="M1196.1,574 H1213 V598 H1196.1" fill="none" stroke="#75899c" stroke-width="1.9" />
<path d="M1192,586 H1207.5" fill="none" stroke="#5f7a9c" stroke-width="1.7" />
<path d="M1203.5,581.5 L1208,586 L1203.5,590.5" fill="none" stroke="#5f7a9c" stroke-width="1.7" />
<line x1="1172.0" y1="586.0" x2="1186.0" y2="586.0" stroke="#8f9ca6" stroke-width="1.2" />
<rect x="1197.0" y="647.4" width="16.0" height="24.0" fill="#e8f1fb" />
<path d="M1197,653.4 V647.4 M1197,671.4 V665.4" fill="none" stroke="#a9b8c9" stroke-width="1.8" />
<path d="M1196.1,647.4 H1213 V671.4 H1196.1" fill="none" stroke="#75899c" stroke-width="1.9" />
<path d="M1192,659.4 H1207.5" fill="none" stroke="#5f7a9c" stroke-width="1.7" />
<path d="M1203.5,654.9 L1208,659.4 L1203.5,663.9" fill="none" stroke="#5f7a9c" stroke-width="1.7" />
<line x1="1172.0" y1="659.4" x2="1186.0" y2="659.4" stroke="#8f9ca6" stroke-width="1.2" />
<rect x="1197.0" y="900.5" width="16.0" height="24.0" fill="#e8f1fb" />
<path d="M1197,906.5 V900.5 M1197,924.5 V918.5" fill="none" stroke="#a9b8c9" stroke-width="1.8" />
<path d="M1196.1,900.5 H1213 V924.5 H1196.1" fill="none" stroke="#75899c" stroke-width="1.9" />
<path d="M1192,912.5 H1207.5" fill="none" stroke="#5f7a9c" stroke-width="1.7" />
<path d="M1203.5,908.0 L1208,912.5 L1203.5,917.0" fill="none" stroke="#5f7a9c" stroke-width="1.7" />
<line x1="1172.0" y1="912.5" x2="1186.0" y2="912.5" stroke="#8f9ca6" stroke-width="1.2" />
<rect x="1197.0" y="993.0" width="16.0" height="24.0" fill="#e8f1fb" />
<path d="M1197,999 V993 M1197,1017 V1011" fill="none" stroke="#a9b8c9" stroke-width="1.8" />
<path d="M1196.1,993 H1213 V1017 H1196.1" fill="none" stroke="#75899c" stroke-width="1.9" />
<path d="M1192,1005 H1207.5" fill="none" stroke="#5f7a9c" stroke-width="1.7" />
<path d="M1203.5,1000.5 L1208,1005 L1203.5,1009.5" fill="none" stroke="#5f7a9c" stroke-width="1.7" />
<line x1="1172.0" y1="1005.0" x2="1186.0" y2="1005.0" stroke="#8f9ca6" stroke-width="1.2" />
<rect x="1249.5" y="1117.0" width="16.0" height="24.0" fill="#e8f1fb" />
<path d="M1249.5,1123 V1117 M1249.5,1141 V1135" fill="none" stroke="#a9b8c9" stroke-width="1.8" />
<path d="M1248.6,1117 H1265.5 V1141 H1248.6" fill="none" stroke="#75899c" stroke-width="1.9" />
<path d="M1244.5,1129 H1260.0" fill="none" stroke="#5f7a9c" stroke-width="1.7" />
<path d="M1256.0,1124.5 L1260.5,1129 L1256.0,1133.5" fill="none" stroke="#5f7a9c" stroke-width="1.7" />
<line x1="1224.5" y1="1129.0" x2="1238.5" y2="1129.0" stroke="#8f9ca6" stroke-width="1.2" />
<rect x="1249.5" y="1148.0" width="16.0" height="24.0" fill="#e8f1fb" />
<path d="M1249.5,1154 V1148 M1249.5,1172 V1166" fill="none" stroke="#a9b8c9" stroke-width="1.8" />
<path d="M1248.6,1148 H1265.5 V1172 H1248.6" fill="none" stroke="#75899c" stroke-width="1.9" />
<path d="M1244.5,1160 H1260.0" fill="none" stroke="#5f7a9c" stroke-width="1.7" />
<path d="M1256.0,1155.5 L1260.5,1160 L1256.0,1164.5" fill="none" stroke="#5f7a9c" stroke-width="1.7" />
<line x1="1224.5" y1="1160.0" x2="1238.5" y2="1160.0" stroke="#8f9ca6" stroke-width="1.2" />
<rect x="1249.5" y="1204.0" width="16.0" height="24.0" fill="#e8f1fb" />
<path d="M1249.5,1210 V1204 M1249.5,1228 V1222" fill="none" stroke="#a9b8c9" stroke-width="1.8" />
<path d="M1248.6,1204 H1265.5 V1228 H1248.6" fill="none" stroke="#75899c" stroke-width="1.9" />
<path d="M1244.5,1216 H1260.0" fill="none" stroke="#5f7a9c" stroke-width="1.7" />
<path d="M1256.0,1211.5 L1260.5,1216 L1256.0,1220.5" fill="none" stroke="#5f7a9c" stroke-width="1.7" />
<line x1="1224.5" y1="1216.0" x2="1238.5" y2="1216.0" stroke="#8f9ca6" stroke-width="1.2" />
<rect x="470.5" y="740.5" width="24.0" height="16.0" fill="#e8f1fb" />
<path d="M476.5,756.5 H470.5 M494.5,756.5 H488.5" fill="none" stroke="#a9b8c9" stroke-width="1.8" />
<path d="M470.5,757.4 V740.5 H494.5 V757.4" fill="none" stroke="#75899c" stroke-width="1.9" />
<path d="M482.5,761.5 V746.0" fill="none" stroke="#5f7a9c" stroke-width="1.7" />
<path d="M478.0,750.0 L482.5,745.5 L487.0,750.0" fill="none" stroke="#5f7a9c" stroke-width="1.7" />
<line x1="482.5" y1="767.5" x2="482.5" y2="783.5" stroke="#8f9ca6" stroke-width="1.1" />
<rect x="795.0" y="740.5" width="24.0" height="16.0" fill="#e8f1fb" />
<path d="M801,756.5 H795 M819,756.5 H813" fill="none" stroke="#a9b8c9" stroke-width="1.8" />
<path d="M795,757.4 V740.5 H819 V757.4" fill="none" stroke="#75899c" stroke-width="1.9" />
<path d="M807,761.5 V746.0" fill="none" stroke="#5f7a9c" stroke-width="1.7" />
<path d="M802.5,750.0 L807,745.5 L811.5,750.0" fill="none" stroke="#5f7a9c" stroke-width="1.7" />
<line x1="807.0" y1="767.5" x2="807.0" y2="783.5" stroke="#8f9ca6" stroke-width="1.1" />
<rect x="843.6" y="740.5" width="24.0" height="16.0" fill="#e8f1fb" />
<path d="M849.6,756.5 H843.6 M867.6,756.5 H861.6" fill="none" stroke="#a9b8c9" stroke-width="1.8" />
<path d="M843.6,757.4 V740.5 H867.6 V757.4" fill="none" stroke="#75899c" stroke-width="1.9" />
<path d="M855.6,761.5 V746.0" fill="none" stroke="#5f7a9c" stroke-width="1.7" />
<path d="M851.1,750.0 L855.6,745.5 L860.1,750.0" fill="none" stroke="#5f7a9c" stroke-width="1.7" />
<line x1="855.6" y1="767.5" x2="855.6" y2="783.5" stroke="#8f9ca6" stroke-width="1.1" />
<rect x="935.0" y="740.5" width="24.0" height="16.0" fill="#e8f1fb" />
<path d="M941,756.5 H935 M959,756.5 H953" fill="none" stroke="#a9b8c9" stroke-width="1.8" />
<path d="M935,757.4 V740.5 H959 V757.4" fill="none" stroke="#75899c" stroke-width="1.9" />
<path d="M947,761.5 V746.0" fill="none" stroke="#5f7a9c" stroke-width="1.7" />
<path d="M942.5,750.0 L947,745.5 L951.5,750.0" fill="none" stroke="#5f7a9c" stroke-width="1.7" />
<line x1="947.0" y1="767.5" x2="947.0" y2="783.5" stroke="#8f9ca6" stroke-width="1.1" />
<rect x="978.6" y="740.5" width="24.0" height="16.0" fill="#e8f1fb" />
<path d="M984.6,756.5 H978.6 M1002.6,756.5 H996.6" fill="none" stroke="#a9b8c9" stroke-width="1.8" />
<path d="M978.6,757.4 V740.5 H1002.6 V757.4" fill="none" stroke="#75899c" stroke-width="1.9" />
<path d="M990.6,761.5 V746.0" fill="none" stroke="#5f7a9c" stroke-width="1.7" />
<path d="M986.1,750.0 L990.6,745.5 L995.1,750.0" fill="none" stroke="#5f7a9c" stroke-width="1.7" />
<line x1="990.6" y1="767.5" x2="990.6" y2="783.5" stroke="#8f9ca6" stroke-width="1.1" />
<rect x="523.0" y="891.5" width="24.0" height="16.0" fill="#e8f1fb" />
<path d="M529,891.5 H523 M547,891.5 H541" fill="none" stroke="#a9b8c9" stroke-width="1.8" />
<path d="M523,890.6 V907.5 H547 V890.6" fill="none" stroke="#75899c" stroke-width="1.9" />
<path d="M535,886.5 V902.0" fill="none" stroke="#5f7a9c" stroke-width="1.7" />
<path d="M530.5,898.0 L535,902.5 L539.5,898.0" fill="none" stroke="#5f7a9c" stroke-width="1.7" />
<rect x="721.3" y="886.3" width="24.0" height="16.0" fill="#e8f1fb" />
<path d="M727.3,886.3 H721.3 M745.3,886.3 H739.3" fill="none" stroke="#a9b8c9" stroke-width="1.8" />
<path d="M721.3,885.4 V902.3 H745.3 V885.4" fill="none" stroke="#75899c" stroke-width="1.9" />
<path d="M733.3,881.3 V896.8" fill="none" stroke="#5f7a9c" stroke-width="1.7" />
<path d="M728.8,892.8 L733.3,897.3 L737.8,892.8" fill="none" stroke="#5f7a9c" stroke-width="1.7" />
<rect x="786.0" y="886.3" width="24.0" height="16.0" fill="#e8f1fb" />
<path d="M792,886.3 H786 M810,886.3 H804" fill="none" stroke="#a9b8c9" stroke-width="1.8" />
<path d="M786,885.4 V902.3 H810 V885.4" fill="none" stroke="#75899c" stroke-width="1.9" />
<path d="M798,881.3 V896.8" fill="none" stroke="#5f7a9c" stroke-width="1.7" />
<path d="M793.5,892.8 L798,897.3 L802.5,892.8" fill="none" stroke="#5f7a9c" stroke-width="1.7" />
<rect x="1012.5" y="886.5" width="24.0" height="16.0" fill="#e8f1fb" />
<path d="M1018.5,886.5 H1012.5 M1036.5,886.5 H1030.5" fill="none" stroke="#a9b8c9" stroke-width="1.8" />
<path d="M1012.5,885.6 V902.5 H1036.5 V885.6" fill="none" stroke="#75899c" stroke-width="1.9" />
<path d="M1024.5,881.5 V897.0" fill="none" stroke="#5f7a9c" stroke-width="1.7" />
<path d="M1020.0,893.0 L1024.5,897.5 L1029.0,893.0" fill="none" stroke="#5f7a9c" stroke-width="1.7" />
<rect x="1051.5" y="1278.0" width="24.0" height="16.0" fill="#e8f1fb" />
<path d="M1057.5,1278 H1051.5 M1075.5,1278 H1069.5" fill="none" stroke="#a9b8c9" stroke-width="1.8" />
<path d="M1051.5,1277.1 V1294 H1075.5 V1277.1" fill="none" stroke="#75899c" stroke-width="1.9" />
<path d="M1063.5,1273 V1288.5" fill="none" stroke="#5f7a9c" stroke-width="1.7" />
<path d="M1059.0,1284.5 L1063.5,1289 L1068.0,1284.5" fill="none" stroke="#5f7a9c" stroke-width="1.7" />
<line x1="1063.5" y1="1255.0" x2="1063.5" y2="1275.0" stroke="#aeb6c2" stroke-width="1.0" />
<line x1="730.0" y1="882.0" x2="730.0" y2="900.0" stroke="#6d7d99" stroke-width="1.2" />
<line x1="736.5" y1="882.0" x2="736.5" y2="900.0" stroke="#6d7d99" stroke-width="1.2" />
</g>
<g filter="url(#bl)">
<circle cx="702.5" cy="392.5" r="27.200000000000003" fill="#d6e6fb"/>
<circle cx="702.5" cy="392.5" r="25.6" fill="#2059c4"/>
<circle cx="702.5" cy="468" r="27.200000000000003" fill="#d6e6fb"/>
<circle cx="702.5" cy="468" r="25.6" fill="#2059c4"/>
<circle cx="702.5" cy="535" r="27.200000000000003" fill="#d6e6fb"/>
<circle cx="702.5" cy="535" r="25.6" fill="#2059c4"/>
<circle cx="702.5" cy="601" r="27.200000000000003" fill="#d6e6fb"/>
<circle cx="702.5" cy="601" r="25.6" fill="#2059c4"/>
<circle cx="702.5" cy="675" r="27.200000000000003" fill="#d6e6fb"/>
<circle cx="702.5" cy="675" r="25.6" fill="#2059c4"/>
<circle cx="520" cy="814.4" r="27.200000000000003" fill="#d6e6fb"/>
<circle cx="520" cy="814.4" r="25.6" fill="#2059c4"/>
<circle cx="768.3" cy="810.6" r="27.200000000000003" fill="#d6e6fb"/>
<circle cx="768.3" cy="810.6" r="25.6" fill="#2059c4"/>
<circle cx="863.2" cy="810.6" r="27.200000000000003" fill="#d6e6fb"/>
<circle cx="863.2" cy="810.6" r="25.6" fill="#2059c4"/>
<circle cx="932.2" cy="810.6" r="27.200000000000003" fill="#d6e6fb"/>
<circle cx="932.2" cy="810.6" r="25.6" fill="#2059c4"/>
<circle cx="1022.2" cy="810.6" r="27.200000000000003" fill="#d6e6fb"/>
<circle cx="1022.2" cy="810.6" r="25.6" fill="#2059c4"/>
<circle cx="1142.5" cy="392" r="27.200000000000003" fill="#d6e6fb"/>
<circle cx="1142.5" cy="392" r="25.6" fill="#2059c4"/>
<circle cx="1142.5" cy="472.3" r="27.200000000000003" fill="#d6e6fb"/>
<circle cx="1142.5" cy="472.3" r="25.6" fill="#2059c4"/>
<circle cx="1142.5" cy="542.5" r="27.200000000000003" fill="#d6e6fb"/>
<circle cx="1142.5" cy="542.5" r="25.6" fill="#2059c4"/>
<circle cx="1142.5" cy="612.7" r="27.200000000000003" fill="#d6e6fb"/>
<circle cx="1142.5" cy="612.7" r="25.6" fill="#2059c4"/>
<circle cx="1142.5" cy="680" r="27.200000000000003" fill="#d6e6fb"/>
<circle cx="1142.5" cy="680" r="25.6" fill="#2059c4"/>
<circle cx="1145" cy="924" r="27.200000000000003" fill="#d6e6fb"/>
<circle cx="1145" cy="924" r="25.6" fill="#2059c4"/>
<circle cx="1145" cy="995.3" r="27.200000000000003" fill="#d6e6fb"/>
<circle cx="1145" cy="995.3" r="25.6" fill="#2059c4"/>
<circle cx="1145" cy="1076" r="27.200000000000003" fill="#d6e6fb"/>
<circle cx="1145" cy="1076" r="25.6" fill="#2059c4"/>
<circle cx="1145" cy="1173" r="27.200000000000003" fill="#d6e6fb"/>
<circle cx="1145" cy="1173" r="25.6" fill="#2059c4"/>
<circle cx="1029.7" cy="1199" r="27.200000000000003" fill="#d6e6fb"/>
<circle cx="1029.7" cy="1199" r="25.6" fill="#2059c4"/>
<circle cx="1145" cy="1233" r="27.200000000000003" fill="#d6e6fb"/>
<circle cx="1145" cy="1233" r="25.6" fill="#2059c4"/>
</g>
<g fill="#ffffff" fill-opacity="0.33" filter="url(#bl)">
<path d="M527.0,1002.0 L527.0,597.0 L785.0,403.0 L961.0,535.0 L1137.0,403.0 L1395.0,597.0 L1395.0,1002.0 L1134.0,1002.0 L1134.0,934.0 L1327.0,934.0 L1327.0,631.0 L1137.0,487.0 L961.0,619.0 L785.0,487.0 L595.0,631.0 L595.0,1002.0 Z" fill="#ffffff" />
<path d="M1000.0,837.6 L1100.0,760.6 L1100.0,870.0 L1000.0,870.0 Z" fill="#ffffff" />
</g>
<g fill="#ffffff" stroke="#ffffff" stroke-width="0.5" font-size="40px" text-anchor="middle" filter="url(#bl)">
<text transform="translate(702.5,406.9) scale(0.92,1)">1</text>
<text transform="translate(702.5,482.4) scale(0.92,1)">2</text>
<text transform="translate(702.5,549.4) scale(0.92,1)">3</text>
<text transform="translate(702.5,615.4) scale(0.92,1)">4</text>
<text transform="translate(702.5,689.4) scale(0.92,1)">5</text>
<text transform="translate(520,828.8) scale(0.92,1)">6</text>
<text transform="translate(768.3,825.0) scale(0.92,1)">7</text>
<text transform="translate(863.2,825.0) scale(0.78,1)">10</text>
<text transform="translate(932.2,825.0) scale(0.92,1)">9</text>
<text transform="translate(1022.2,825.0) scale(0.92,1)">8</text>
<text transform="translate(1142.5,406.4) scale(0.78,1)">11</text>
<text transform="translate(1142.5,486.7) scale(0.78,1)">12</text>
<text transform="translate(1142.5,556.9) scale(0.78,1)">13</text>
<text transform="translate(1142.5,627.1) scale(0.78,1)">14</text>
<text transform="translate(1142.5,694.4) scale(0.78,1)">15</text>
<text transform="translate(1145,938.4) scale(0.78,1)">16</text>
<text transform="translate(1145,1009.6999999999999) scale(0.78,1)">17</text>
<text transform="translate(1145,1090.4) scale(0.78,1)">18</text>
<text transform="translate(1145,1187.4) scale(0.78,1)">19</text>
<text transform="translate(1029.7,1213.4) scale(0.78,1)">20</text>
<text transform="translate(1145,1247.4) scale(0.78,1)">21</text>
</g>
</svg>
</body></html>
